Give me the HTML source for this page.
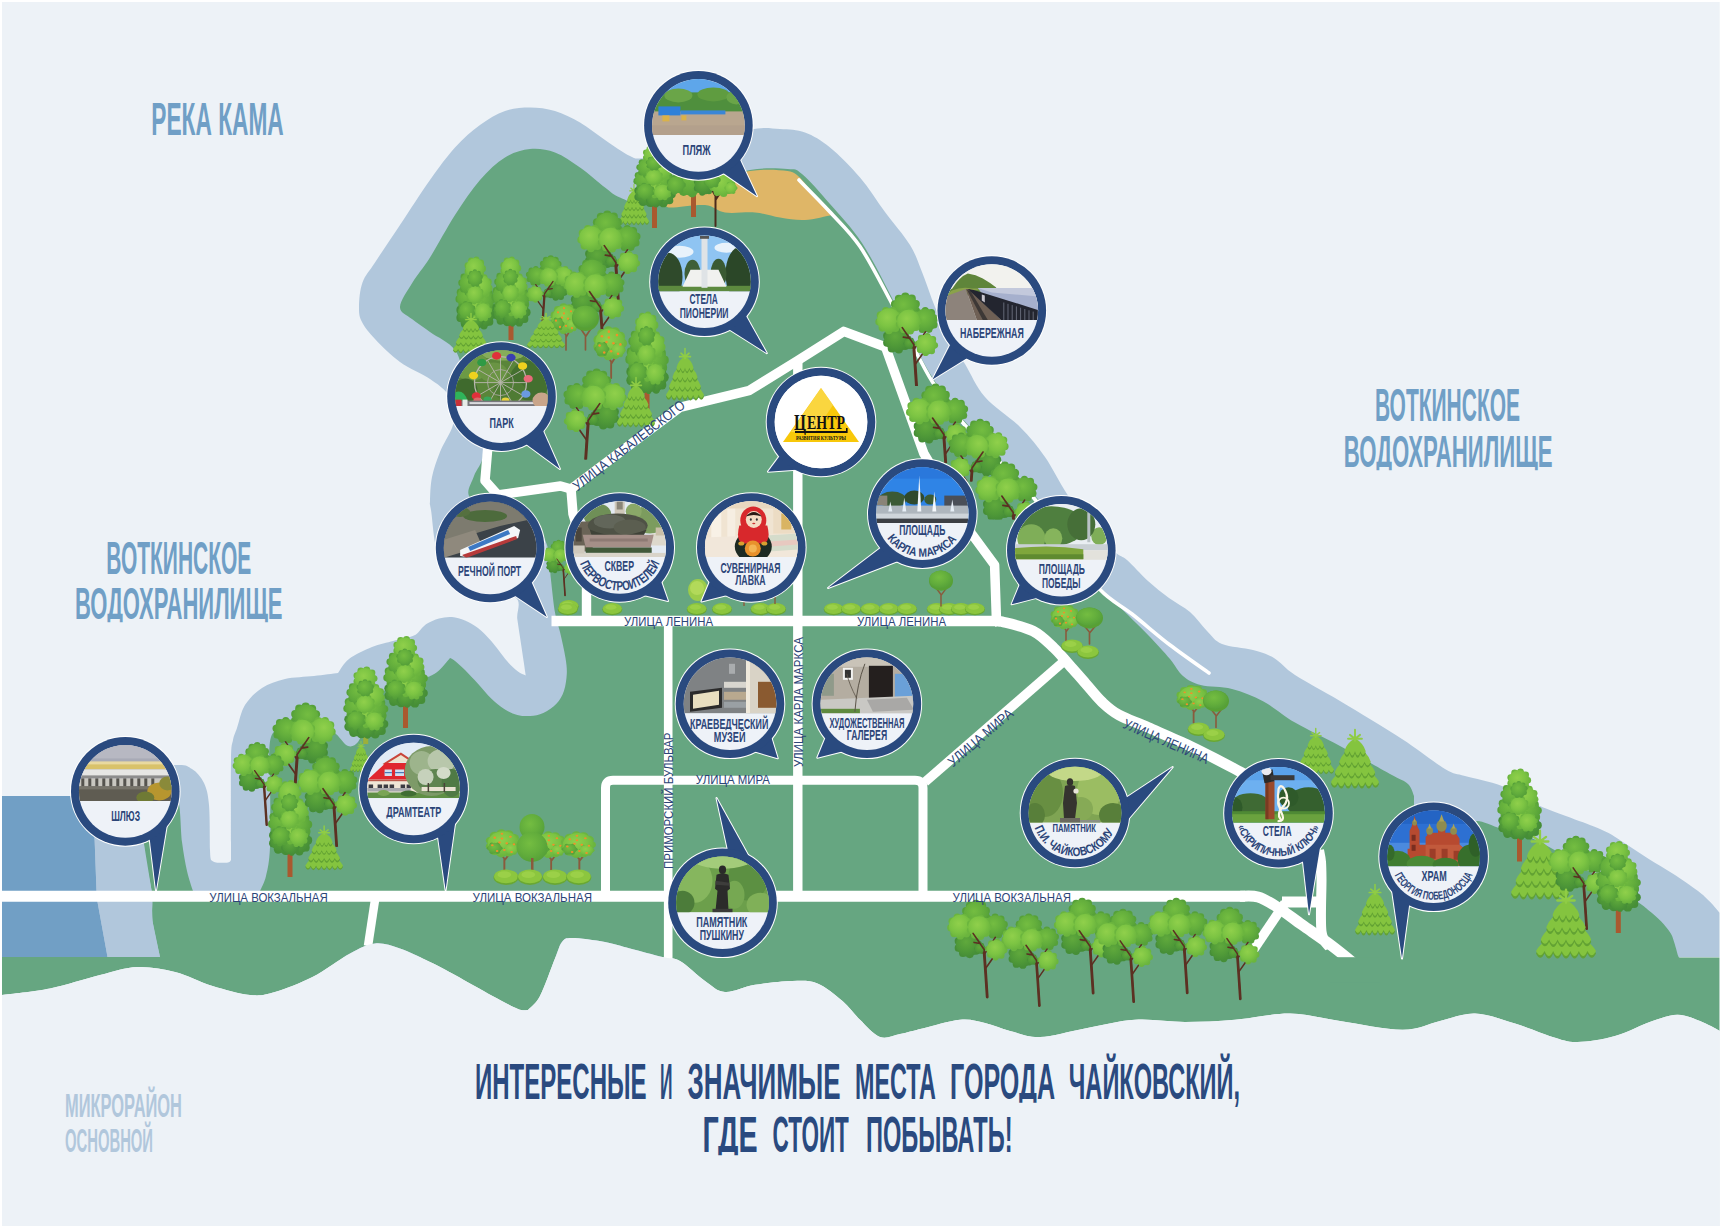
<!DOCTYPE html>
<html lang="ru"><head><meta charset="utf-8"><title>Интересные и значимые места города Чайковский</title>
<style>
html,body{margin:0;padding:0;background:#fff;}
body{width:1721px;height:1228px;overflow:hidden;font-family:"Liberation Sans",sans-serif;}
svg{display:block}
text{font-family:"Liberation Sans",sans-serif;}
.lb{font-weight:bold;fill:#2c4578}
.st{fill:#2c4578}
.sf{font-family:"Liberation Serif",serif}
</style></head><body>
<svg width="1721" height="1228" viewBox="0 0 1721 1228">
<rect x="0" y="0" width="1721" height="1228" fill="#ffffff"/>
<rect x="2" y="2" width="1717.7" height="1224" fill="#edf2f7"/>
<defs><clipPath id="frame"><rect x="2" y="2" width="1717.7" height="1224"/></clipPath></defs>
<g clip-path="url(#frame)">
<path d="M2.0 957.0 C2.0 930.8 2.0 826.2 2.0 800.0 C17.5 800.0 75.3 804.7 95.0 800.0 C114.7 795.3 106.7 777.8 120.0 772.0 C133.3 766.2 163.0 765.5 175.0 765.0 C187.0 764.5 187.2 766.0 192.0 769.0 C196.8 772.0 201.2 777.0 204.0 783.0 C206.8 789.0 208.0 793.8 209.0 805.0 C210.0 816.2 209.7 840.8 210.0 850.0 C210.3 859.2 210.8 858.3 211.0 860.0 C211.8 860.4 213.2 862.1 216.0 862.5 C218.8 862.9 225.5 862.9 228.0 862.5 C230.5 862.1 230.5 860.4 231.0 860.0 C231.0 857.0 231.0 858.7 231.0 842.0 C231.0 825.3 230.7 777.0 231.0 760.0 C231.3 743.0 232.0 745.3 233.0 740.0 C234.0 734.7 235.0 733.8 237.0 728.0 C239.0 722.2 240.8 711.7 245.0 705.0 C249.2 698.3 255.3 692.3 262.0 688.0 C268.7 683.7 276.3 681.0 285.0 679.0 C293.7 677.0 305.2 677.0 314.0 676.0 C322.8 675.0 334.0 673.5 338.0 673.0 C339.8 670.7 343.3 663.3 349.0 659.0 C354.7 654.7 364.7 650.0 372.0 647.0 C379.3 644.0 387.7 642.5 393.0 641.0 C398.3 639.5 400.2 639.0 404.0 638.0 C407.8 637.0 411.9 637.0 415.6 634.7 C419.3 632.4 422.1 627.0 426.0 624.3 C429.9 621.6 434.7 619.6 439.0 618.4 C443.3 617.2 447.7 616.7 452.0 617.0 C456.3 617.3 460.7 618.6 465.0 620.4 C469.3 622.2 473.6 624.6 478.0 628.0 C482.4 631.4 486.4 635.5 491.2 641.0 C496.0 646.5 502.5 655.8 506.8 660.8 C511.1 665.8 514.1 668.5 517.3 671.0 C520.4 673.5 524.3 674.8 525.7 675.5 C525.0 670.4 522.6 654.4 521.2 645.0 C519.8 635.6 518.4 627.0 517.3 619.0 C516.2 611.0 522.6 601.8 514.7 597.0 C506.8 592.2 482.4 596.2 470.0 590.0 C457.6 583.8 446.5 573.3 440.0 560.0 C433.5 546.7 432.7 519.8 431.0 510.0 C429.3 500.2 429.8 506.5 430.0 501.0 C430.2 495.5 430.3 485.2 432.0 477.0 C433.7 468.8 436.7 460.2 440.0 452.0 C443.3 443.8 449.3 435.0 452.0 428.0 C454.7 421.0 455.3 413.0 456.0 410.0 C454.5 407.2 451.3 398.2 447.0 393.0 C442.7 387.8 437.8 384.2 430.0 379.0 C422.2 373.8 409.2 368.7 400.0 362.0 C390.8 355.3 381.3 345.7 375.0 339.0 C368.7 332.3 364.7 327.3 362.0 322.0 C359.3 316.7 358.9 313.6 359.0 307.0 C359.1 300.4 359.8 289.9 362.5 282.5 C365.2 275.1 368.8 272.1 375.0 262.5 C381.2 252.9 390.8 238.8 400.0 225.0 C409.2 211.2 420.8 192.9 430.0 180.0 C439.2 167.1 446.7 156.7 455.0 147.5 C463.3 138.3 471.7 131.1 480.0 125.0 C488.3 118.9 496.7 113.9 505.0 111.0 C513.3 108.1 521.7 107.5 530.0 107.5 C538.3 107.5 546.7 108.5 555.0 111.0 C563.3 113.5 571.7 117.7 580.0 122.5 C588.3 127.3 596.7 134.4 605.0 140.0 C613.3 145.6 623.3 153.0 630.0 156.0 C636.7 159.0 633.3 159.0 645.0 158.0 C656.7 157.0 682.5 154.7 700.0 150.0 C717.5 145.3 736.7 133.5 750.0 130.0 C763.3 126.5 770.8 128.6 780.0 129.0 C789.2 129.4 796.7 129.4 805.0 132.5 C813.3 135.6 820.8 140.0 830.0 147.5 C839.2 155.0 850.8 166.8 860.0 177.5 C869.2 188.2 876.7 200.8 885.0 212.0 C893.3 223.2 903.8 235.0 910.0 245.0 C916.2 255.0 917.8 261.7 922.0 272.0 C926.2 282.3 930.3 295.7 935.0 307.0 C939.7 318.3 945.0 330.5 950.0 340.0 C955.0 349.5 959.2 354.5 965.0 364.0 C970.8 373.5 975.8 386.5 985.0 397.0 C994.2 407.5 1010.0 417.0 1020.0 427.0 C1030.0 437.0 1037.2 445.8 1045.0 457.0 C1052.8 468.2 1059.5 482.7 1067.0 494.0 C1074.5 505.3 1082.0 515.3 1090.0 525.0 C1098.0 534.7 1108.8 546.2 1115.0 552.0 C1121.2 557.8 1121.5 555.2 1127.0 560.0 C1132.5 564.8 1141.0 574.7 1148.0 581.0 C1155.0 587.3 1162.0 592.8 1169.0 598.0 C1176.0 603.2 1183.7 606.5 1190.0 612.0 C1196.3 617.5 1201.7 625.7 1207.0 631.0 C1212.3 636.3 1214.3 640.8 1222.0 644.0 C1229.7 647.2 1244.3 647.7 1253.0 650.0 C1261.7 652.3 1267.0 653.8 1274.0 658.0 C1281.0 662.2 1284.0 667.8 1295.0 675.0 C1306.0 682.2 1322.2 690.3 1340.0 701.0 C1357.8 711.7 1384.5 727.7 1402.0 739.0 C1419.5 750.3 1434.5 762.8 1445.0 769.0 C1455.5 775.2 1455.5 773.2 1465.0 776.0 C1474.5 778.8 1489.5 781.0 1502.0 786.0 C1514.5 791.0 1523.7 798.8 1540.0 806.0 C1556.3 813.2 1585.9 822.8 1600.0 829.0 C1614.1 835.2 1616.3 838.0 1624.4 843.0 C1632.5 848.0 1640.7 853.9 1648.8 859.0 C1656.9 864.1 1664.8 868.4 1673.0 873.7 C1681.2 879.0 1691.5 886.1 1697.7 890.8 C1703.9 895.5 1706.3 898.1 1710.0 901.8 C1713.7 905.5 1718.0 911.0 1719.6 912.8 C1719.6 920.2 1719.6 949.6 1719.6 957.0 C1433.3 957.0 288.3 957.0 2.0 957.0Z" fill="#b1c7dc"/>
<path d="M2.0 957.0 C28.3 957.0 133.7 957.0 160.0 957.0 C158.8 951.0 153.8 930.2 152.5 921.0 C151.2 911.8 152.7 907.2 152.5 902.0 C152.3 896.8 152.9 899.7 151.5 890.0 C150.1 880.3 144.2 857.3 144.0 844.0 C143.8 830.7 146.5 817.7 150.0 810.0 C153.5 802.3 160.3 799.7 165.0 798.0 C169.7 796.3 175.2 792.7 178.0 800.0 C180.8 807.3 180.5 830.2 182.0 842.0 C183.5 853.8 185.2 862.8 187.0 871.0 C188.8 879.2 192.0 887.7 193.0 891.0 C204.2 891.0 248.8 891.0 260.0 891.0 C261.0 888.5 264.3 883.3 266.0 876.0 C267.7 868.7 269.3 863.0 270.0 847.0 C270.7 831.0 270.2 794.5 270.0 780.0 C269.8 765.5 268.8 767.2 269.0 760.0 C269.2 752.8 269.2 742.3 271.0 737.0 C272.8 731.7 275.2 730.5 280.0 728.0 C284.8 725.5 293.3 723.0 300.0 722.0 C306.7 721.0 314.0 720.0 320.0 722.0 C326.0 724.0 331.3 730.0 336.0 734.0 C340.7 738.0 344.3 744.7 348.0 746.0 C351.7 747.3 355.2 745.5 358.0 742.0 C360.8 738.5 362.2 732.0 365.0 725.0 C367.8 718.0 371.3 706.0 375.0 700.0 C378.7 694.0 382.0 691.7 387.0 689.0 C392.0 686.3 398.5 685.9 405.0 684.0 C411.5 682.1 420.8 679.6 426.0 677.7 C431.2 675.8 433.4 674.7 436.5 672.5 C439.6 670.3 442.1 667.1 444.3 664.7 C446.6 662.3 449.1 659.1 450.0 658.0 C450.8 658.5 452.2 658.8 454.7 660.8 C457.2 662.8 461.1 666.1 465.0 670.0 C468.9 673.9 473.8 679.2 478.2 684.0 C482.6 688.8 486.9 694.4 491.2 698.6 C495.5 702.8 499.9 706.3 504.2 709.0 C508.5 711.7 512.9 713.7 517.3 714.9 C521.6 716.1 526.0 716.3 530.3 716.0 C534.6 715.7 538.9 715.0 543.3 713.0 C547.6 711.0 552.9 707.5 556.4 703.8 C559.9 700.1 562.3 695.7 564.0 690.7 C565.7 685.7 566.5 679.2 566.8 673.8 C567.0 668.3 566.6 665.0 565.5 658.0 C564.4 651.0 561.8 639.6 560.0 632.0 C558.2 624.4 556.5 621.3 555.0 612.6 C553.5 603.9 552.3 591.3 551.0 580.0 C549.7 568.7 550.5 555.0 547.0 545.0 C543.5 535.0 539.5 525.8 530.0 520.0 C520.5 514.2 500.2 514.0 490.0 510.0 C479.8 506.0 471.7 501.7 469.0 496.0 C466.3 490.3 471.7 482.8 474.0 476.0 C476.3 469.2 482.3 464.3 483.0 455.0 C483.7 445.7 481.0 432.5 478.0 420.0 C475.0 407.5 468.8 391.7 465.0 380.0 C461.2 368.3 460.8 358.0 455.0 350.0 C449.2 342.0 437.2 337.2 430.0 332.0 C422.8 326.8 417.0 323.2 412.0 319.0 C407.0 314.8 399.9 313.1 400.0 307.0 C400.1 300.9 407.5 290.8 412.5 282.5 C417.5 274.2 422.9 268.8 430.0 257.5 C437.1 246.2 446.7 227.9 455.0 215.0 C463.3 202.1 471.7 189.6 480.0 180.0 C488.3 170.4 496.7 162.7 505.0 157.5 C513.3 152.3 521.7 149.8 530.0 149.0 C538.3 148.2 546.7 149.4 555.0 152.5 C563.3 155.6 571.7 161.7 580.0 167.5 C588.3 173.3 598.3 182.5 605.0 187.5 C611.7 192.5 613.3 194.9 620.0 197.5 C626.7 200.1 631.7 205.1 645.0 203.0 C658.3 200.9 682.5 190.5 700.0 185.0 C717.5 179.5 735.4 172.7 750.0 170.0 C764.6 167.3 778.8 168.3 787.5 169.0 C796.2 169.7 794.9 168.2 802.0 174.0 C809.1 179.8 820.0 192.5 830.0 204.0 C840.0 215.5 851.7 227.3 862.0 243.0 C872.3 258.7 883.7 281.8 892.0 298.0 C900.3 314.2 905.0 326.3 912.0 340.0 C919.0 353.7 925.7 367.0 934.0 380.0 C942.3 393.0 951.2 405.0 962.0 418.0 C972.8 431.0 986.5 444.7 999.0 458.0 C1011.5 471.3 1025.2 483.5 1037.0 498.0 C1048.8 512.5 1059.3 530.0 1070.0 545.0 C1080.7 560.0 1091.3 576.3 1101.0 588.0 C1110.7 599.7 1120.0 607.0 1128.0 615.0 C1136.0 623.0 1142.0 628.7 1149.0 636.0 C1156.0 643.3 1164.3 652.3 1170.0 659.0 C1175.7 665.7 1177.9 671.7 1183.0 676.0 C1188.1 680.3 1192.5 682.8 1200.7 685.0 C1208.9 687.2 1221.5 686.2 1232.0 689.0 C1242.5 691.8 1253.0 695.9 1263.5 701.5 C1274.0 707.1 1282.2 715.1 1295.0 722.5 C1307.8 729.9 1324.2 737.4 1340.0 746.0 C1355.8 754.6 1378.7 767.7 1390.0 774.0 C1401.3 780.3 1404.0 780.3 1408.0 784.0 C1412.0 787.7 1413.0 794.0 1414.0 796.0 C1414.0 801.7 1414.0 824.3 1414.0 830.0 C1423.3 830.0 1460.7 830.0 1470.0 830.0 C1471.2 828.5 1471.7 821.2 1477.0 821.0 C1482.3 820.8 1491.8 825.7 1502.0 829.0 C1512.2 832.3 1523.3 833.8 1538.0 841.0 C1552.7 848.2 1573.8 862.1 1590.0 872.0 C1606.2 881.9 1625.6 894.2 1635.4 900.6 C1645.2 907.0 1644.5 907.0 1648.8 910.4 C1653.1 913.8 1657.3 917.4 1661.0 921.3 C1664.7 925.1 1668.5 929.8 1670.8 933.5 C1673.0 937.2 1673.3 939.6 1674.5 943.3 C1675.7 947.0 1677.2 953.1 1678.0 955.5 C1678.8 957.9 1679.2 957.1 1679.4 957.4 C1686.1 957.4 1712.9 957.4 1719.6 957.4 C1719.6 969.7 1719.6 1018.7 1719.6 1031.0 L1720.0 1031.0 C1716.7 1029.3 1707.1 1023.7 1700.0 1021.0 C1692.9 1018.3 1685.4 1014.8 1677.5 1014.8 C1669.6 1014.8 1662.9 1017.5 1652.5 1021.0 C1642.1 1024.5 1627.5 1032.5 1615.0 1036.0 C1602.5 1039.5 1587.9 1041.8 1577.5 1042.0 C1567.1 1042.2 1562.9 1040.1 1552.5 1037.0 C1542.1 1033.9 1527.9 1027.4 1515.0 1023.5 C1502.1 1019.6 1487.5 1013.9 1475.0 1013.5 C1462.5 1013.1 1452.1 1018.3 1440.0 1021.0 C1427.9 1023.7 1419.2 1029.8 1402.5 1029.8 C1385.8 1029.8 1358.8 1023.7 1340.0 1021.0 C1321.2 1018.3 1307.5 1013.7 1290.0 1013.5 C1272.5 1013.3 1252.5 1018.3 1235.0 1019.8 C1217.5 1021.2 1201.7 1022.0 1185.0 1022.0 C1168.3 1022.0 1151.7 1018.7 1135.0 1019.8 C1118.3 1020.8 1100.8 1025.6 1085.0 1028.5 C1069.2 1031.4 1052.5 1036.6 1040.0 1037.0 C1027.5 1037.4 1019.2 1033.3 1010.0 1031.0 C1000.8 1028.7 993.3 1024.9 985.0 1023.0 C976.7 1021.1 970.4 1018.8 960.0 1019.8 C949.6 1020.7 932.5 1026.1 922.5 1028.5 C912.5 1030.9 907.1 1032.6 900.0 1034.0 C892.9 1035.4 886.7 1039.4 880.0 1037.0 C873.3 1034.6 866.2 1025.8 860.0 1019.8 C853.8 1013.8 849.6 1007.0 842.5 1001.0 C835.4 995.0 825.8 986.8 817.5 983.5 C809.2 980.2 802.9 980.8 792.5 981.0 C782.1 981.2 766.2 982.9 755.0 984.8 C743.8 986.6 733.3 992.6 725.0 992.0 C716.7 991.4 712.5 986.2 705.0 981.0 C697.5 975.8 687.1 965.0 680.0 961.0 C672.9 957.0 670.8 959.1 662.5 957.0 C654.2 954.9 639.6 951.0 630.0 948.5 C620.4 946.0 614.7 943.8 605.0 942.0 C595.3 940.2 579.2 938.0 572.0 938.0 C564.8 938.0 564.8 938.6 562.0 942.0 C559.2 945.4 558.7 949.5 555.0 958.5 C551.3 967.5 544.5 987.4 540.0 996.0 C535.5 1004.6 530.0 1007.7 528.0 1010.0 C526.3 1009.8 523.9 1011.3 518.0 1009.0 C512.1 1006.7 503.0 1001.7 492.5 996.0 C482.0 990.3 465.4 980.7 455.0 975.0 C444.6 969.3 439.2 966.4 430.0 962.0 C420.8 957.6 409.2 951.6 400.0 948.5 C390.8 945.4 383.3 942.7 375.0 943.5 C366.7 944.3 360.4 947.9 350.0 953.5 C339.6 959.1 325.0 970.6 312.5 977.0 C300.0 983.4 285.4 989.0 275.0 992.0 C264.6 995.0 260.4 996.0 250.0 995.0 C239.6 994.0 225.0 989.8 212.5 986.0 C200.0 982.2 187.5 975.2 175.0 972.0 C162.5 968.8 150.0 966.5 137.5 967.0 C125.0 967.5 114.6 971.4 100.0 975.0 C85.4 978.6 66.3 985.2 50.0 988.5 C33.7 991.8 10.0 993.9 2.0 995.0Z" fill="#66a681"/>
<path d="M666.0 203.0 C668.2 201.2 673.3 195.2 679.0 192.0 C684.7 188.8 688.2 187.5 700.0 184.0 C711.8 180.5 735.4 173.2 750.0 171.0 C764.6 168.8 779.2 169.9 787.5 171.0 C795.8 172.1 797.9 176.4 800.0 177.5 C805.3 183.8 826.7 208.8 832.0 215.0 C827.5 215.8 813.7 219.6 805.0 220.0 C796.3 220.4 788.3 218.8 780.0 217.5 C771.7 216.2 764.2 213.3 755.0 212.5 C745.8 211.7 733.3 213.8 725.0 212.5 C716.7 211.2 714.2 205.8 705.0 205.0 C695.8 204.2 676.5 207.8 670.0 207.5 C663.5 207.2 666.7 203.8 666.0 203.0Z" fill="#dfb667"/>
<path d="M2 796 L93 796 L96.5 891 L97.5 902 L107.5 957 L2 957Z" fill="#719fc5"/>
<path d="M93 796 L150 796 L144 844 L151.5 890 L152.5 921 L160 957 L107.5 957 L97.5 902 L96.5 891Z" fill="#b1c7dc"/>
<path d="M799.0 180.0 C804.2 185.3 819.8 200.9 830.0 212.0 C840.2 223.1 850.0 231.8 860.0 246.5 C870.0 261.2 881.5 284.1 890.0 300.0 C898.5 315.9 903.9 328.3 911.0 342.0 C918.1 355.7 924.3 369.1 932.5 382.0 C940.7 394.9 949.2 406.6 960.0 419.5 C970.8 432.4 985.0 446.2 997.5 459.5 C1010.0 472.8 1022.9 485.1 1035.0 499.5 C1047.1 513.9 1059.2 531.0 1070.0 546.0 C1080.8 561.0 1089.7 578.2 1100.0 589.5 C1110.3 600.8 1120.3 604.8 1132.0 614.0 C1143.7 623.2 1157.2 635.2 1170.0 645.0 C1182.8 654.8 1202.5 668.3 1209.0 673.0" fill="none" stroke="#ffffff" stroke-width="3.6" stroke-linejoin="round" stroke-linecap="round"/>
<path d="M2.0 896.3 L1245.0 896.3" fill="none" stroke="#ffffff" stroke-width="11.0" stroke-linejoin="round" />
<path d="M1240.0 896.3 C1243.0 896.4 1251.7 895.2 1258.0 897.0 C1264.3 898.8 1270.3 902.7 1277.6 907.3 C1284.9 911.9 1293.0 918.4 1302.0 924.8 C1311.0 931.2 1321.6 938.2 1331.6 945.7 C1341.6 953.2 1356.9 966.0 1362.0 970.0" fill="none" stroke="#ffffff" stroke-width="11.0" stroke-linejoin="round" />
<rect x="1330" y="957.2" width="50" height="25" fill="#66a681"/>
<path d="M1282.0 902.0 L1321.0 902.0" fill="none" stroke="#ffffff" stroke-width="11.0" stroke-linejoin="round" />
<path d="M1319.0 850.0 C1319.3 852.0 1320.6 857.0 1321.0 862.0 C1321.4 867.0 1321.4 868.4 1321.5 880.0 C1321.6 891.6 1320.1 920.4 1321.5 931.7 C1322.9 943.0 1328.6 945.3 1330.0 948.0" fill="none" stroke="#ffffff" stroke-width="10.0" stroke-linejoin="round" />
<path d="M1285.0 903.0 L1252.0 952.0" fill="none" stroke="#ffffff" stroke-width="9.5" stroke-linejoin="round" />
<path d="M375.0 900.0 L368.0 946.0" fill="none" stroke="#ffffff" stroke-width="8.5" stroke-linejoin="round" />
<path d="M551.5 621.0 L1000.0 621.0" fill="none" stroke="#ffffff" stroke-width="10.6" stroke-linejoin="round" stroke-linecap="butt"/>
<path d="M995.0 621.5 C996.1 621.5 995.6 620.1 1001.9 621.7 C1008.2 623.3 1024.3 626.6 1033.0 631.0 C1041.7 635.4 1048.0 642.4 1054.0 648.0 C1060.0 653.6 1063.7 658.7 1069.0 664.6 C1074.3 670.5 1080.1 677.3 1085.6 683.5 C1091.1 689.7 1096.4 696.8 1102.0 702.0 C1107.6 707.2 1111.3 710.8 1119.0 715.0 C1126.7 719.2 1136.2 722.2 1148.0 727.4 C1159.8 732.6 1177.7 740.2 1190.0 746.0 C1202.3 751.8 1213.2 757.7 1221.6 762.0 C1230.0 766.3 1232.4 767.7 1240.5 772.0 C1248.6 776.3 1265.1 785.3 1270.0 788.0" fill="none" stroke="#ffffff" stroke-width="10.6" stroke-linejoin="round" />
<path d="M668.2 621.0 L668.2 960.0" fill="none" stroke="#ffffff" stroke-width="8.6" stroke-linejoin="round" />
<path d="M797.8 358.0 L797.8 896.0" fill="none" stroke="#ffffff" stroke-width="9.4" stroke-linejoin="round" />
<path d="M605.5 896 L605.5 788 Q605.5 780.3 613 780.3 L915 780.3 Q923 780.3 923 788 L923 896" fill="none" stroke="#ffffff" stroke-width="9.0" stroke-linejoin="round" />
<path d="M925.0 782.0 L1062.5 662.5" fill="none" stroke="#ffffff" stroke-width="9.4" stroke-linejoin="round" />
<path d="M586.5 621.0 L586.5 560.0" fill="none" stroke="#ffffff" stroke-width="9.4" stroke-linejoin="round" />
<path d="M488.0 445.0 L485.0 480.7 L497.7 495.0 L560.5 486.0 L571.0 489.0 L679.8 407.4 L748.8 390.7 L797.0 361.0 L843.7 331.4 L885.5 347.0 L923.8 453.4 L971.6 533.7 L994.6 565.0 L996.5 621.0" fill="none" stroke="#ffffff" stroke-width="9.5" stroke-linejoin="round" />
<path d="M571.0 489.0 L573.0 514.0 L586.5 560.0" fill="none" stroke="#ffffff" stroke-width="9.5" stroke-linejoin="round" />
<path d="M2.0 995.0 C10.0 993.9 33.7 991.8 50.0 988.5 C66.3 985.2 85.4 978.6 100.0 975.0 C114.6 971.4 125.0 967.5 137.5 967.0 C150.0 966.5 162.5 968.8 175.0 972.0 C187.5 975.2 200.0 982.2 212.5 986.0 C225.0 989.8 239.6 994.0 250.0 995.0 C260.4 996.0 264.6 995.0 275.0 992.0 C285.4 989.0 300.0 983.4 312.5 977.0 C325.0 970.6 339.6 959.1 350.0 953.5 C360.4 947.9 366.7 944.3 375.0 943.5 C383.3 942.7 390.8 945.4 400.0 948.5 C409.2 951.6 420.8 957.6 430.0 962.0 C439.2 966.4 444.6 969.3 455.0 975.0 C465.4 980.7 482.0 990.3 492.5 996.0 C503.0 1001.7 512.1 1006.7 518.0 1009.0 C523.9 1011.3 526.3 1009.8 528.0 1010.0 C530.0 1007.7 535.5 1004.6 540.0 996.0 C544.5 987.4 551.3 967.5 555.0 958.5 C558.7 949.5 559.2 945.4 562.0 942.0 C564.8 938.6 564.8 938.0 572.0 938.0 C579.2 938.0 595.3 940.2 605.0 942.0 C614.7 943.8 620.4 946.0 630.0 948.5 C639.6 951.0 654.2 954.9 662.5 957.0 C670.8 959.1 672.9 957.0 680.0 961.0 C687.1 965.0 697.5 975.8 705.0 981.0 C712.5 986.2 716.7 991.4 725.0 992.0 C733.3 992.6 743.8 986.6 755.0 984.8 C766.2 982.9 782.1 981.2 792.5 981.0 C802.9 980.8 809.2 980.2 817.5 983.5 C825.8 986.8 835.4 995.0 842.5 1001.0 C849.6 1007.0 853.8 1013.8 860.0 1019.8 C866.2 1025.8 873.3 1034.6 880.0 1037.0 C886.7 1039.4 892.9 1035.4 900.0 1034.0 C907.1 1032.6 912.5 1030.9 922.5 1028.5 C932.5 1026.1 949.6 1020.7 960.0 1019.8 C970.4 1018.8 976.7 1021.1 985.0 1023.0 C993.3 1024.9 1000.8 1028.7 1010.0 1031.0 C1019.2 1033.3 1027.5 1037.4 1040.0 1037.0 C1052.5 1036.6 1069.2 1031.4 1085.0 1028.5 C1100.8 1025.6 1118.3 1020.8 1135.0 1019.8 C1151.7 1018.7 1168.3 1022.0 1185.0 1022.0 C1201.7 1022.0 1217.5 1021.2 1235.0 1019.8 C1252.5 1018.3 1272.5 1013.3 1290.0 1013.5 C1307.5 1013.7 1321.2 1018.3 1340.0 1021.0 C1358.8 1023.7 1385.8 1029.8 1402.5 1029.8 C1419.2 1029.8 1427.9 1023.7 1440.0 1021.0 C1452.1 1018.3 1462.5 1013.1 1475.0 1013.5 C1487.5 1013.9 1502.1 1019.6 1515.0 1023.5 C1527.9 1027.4 1542.1 1033.9 1552.5 1037.0 C1562.9 1040.1 1567.1 1042.2 1577.5 1042.0 C1587.9 1041.8 1602.5 1039.5 1615.0 1036.0 C1627.5 1032.5 1642.1 1024.5 1652.5 1021.0 C1662.9 1017.5 1669.6 1014.8 1677.5 1014.8 C1685.4 1014.8 1692.9 1018.3 1700.0 1021.0 C1707.1 1023.7 1716.7 1029.3 1720.0 1031.0 L1720 1226 L2 1226Z" fill="#edf2f7"/>
</g>
<defs><radialGradient id="gL" cx="0.42" cy="0.38" r="0.62"><stop offset="0" stop-color="#90d04b"/><stop offset="0.6" stop-color="#7cc443"/><stop offset="1" stop-color="#6bb53e"/></radialGradient><radialGradient id="gM" cx="0.42" cy="0.38" r="0.62"><stop offset="0" stop-color="#74bd41"/><stop offset="0.6" stop-color="#63ae3c"/><stop offset="1" stop-color="#56a139"/></radialGradient><radialGradient id="gD" cx="0.42" cy="0.38" r="0.62"><stop offset="0" stop-color="#60a93c"/><stop offset="0.6" stop-color="#509a38"/><stop offset="1" stop-color="#468e37"/></radialGradient><g id="tb"><circle cx="29.0" cy="42.0" r="3.8" fill="#468e37"/><circle cx="26.7" cy="48.4" r="3.8" fill="#468e37"/><circle cx="20.7" cy="51.8" r="3.8" fill="#468e37"/><circle cx="14.0" cy="50.7" r="3.8" fill="#468e37"/><circle cx="9.6" cy="45.4" r="3.8" fill="#468e37"/><circle cx="9.6" cy="38.6" r="3.8" fill="#468e37"/><circle cx="14.0" cy="33.3" r="3.8" fill="#468e37"/><circle cx="20.7" cy="32.2" r="3.8" fill="#468e37"/><circle cx="26.7" cy="35.6" r="3.8" fill="#468e37"/><circle cx="19.0" cy="42.0" r="11.9" fill="url(#gD)"/><circle cx="35.4" cy="46.0" r="1.6" fill="#468e37"/><circle cx="33.2" cy="49.8" r="1.6" fill="#468e37"/><circle cx="28.8" cy="49.8" r="1.6" fill="#468e37"/><circle cx="26.6" cy="46.0" r="1.6" fill="#468e37"/><circle cx="28.8" cy="42.2" r="1.6" fill="#468e37"/><circle cx="33.2" cy="42.2" r="1.6" fill="#468e37"/><circle cx="31.0" cy="46.0" r="5.2" fill="url(#gD)"/><circle cx="36.9" cy="15.1" r="3.9" fill="#56a139"/><circle cx="33.2" cy="20.3" r="3.9" fill="#56a139"/><circle cx="27.1" cy="22.4" r="3.9" fill="#56a139"/><circle cx="21.0" cy="20.5" r="3.9" fill="#56a139"/><circle cx="17.2" cy="15.4" r="3.9" fill="#56a139"/><circle cx="17.1" cy="8.9" r="3.9" fill="#56a139"/><circle cx="20.8" cy="3.7" r="3.9" fill="#56a139"/><circle cx="26.9" cy="1.6" r="3.9" fill="#56a139"/><circle cx="33.0" cy="3.5" r="3.9" fill="#56a139"/><circle cx="36.8" cy="8.6" r="3.9" fill="#56a139"/><circle cx="27.0" cy="12.0" r="12.3" fill="url(#gM)"/><circle cx="54.1" cy="28.4" r="3.4" fill="#56a139"/><circle cx="49.3" cy="32.6" r="3.4" fill="#56a139"/><circle cx="43.1" cy="32.7" r="3.4" fill="#56a139"/><circle cx="38.1" cy="28.8" r="3.4" fill="#56a139"/><circle cx="36.9" cy="22.6" r="3.4" fill="#56a139"/><circle cx="39.9" cy="17.1" r="3.4" fill="#56a139"/><circle cx="45.8" cy="14.8" r="3.4" fill="#56a139"/><circle cx="51.7" cy="16.8" r="3.4" fill="#56a139"/><circle cx="55.0" cy="22.2" r="3.4" fill="#56a139"/><circle cx="46.0" cy="24.0" r="10.9" fill="url(#gM)"/><circle cx="20.9" cy="25.9" r="3.6" fill="#6bb53e"/><circle cx="17.5" cy="31.5" r="3.6" fill="#6bb53e"/><circle cx="11.3" cy="33.6" r="3.6" fill="#6bb53e"/><circle cx="5.1" cy="31.2" r="3.6" fill="#6bb53e"/><circle cx="2.0" cy="25.4" r="3.6" fill="#6bb53e"/><circle cx="3.3" cy="19.0" r="3.6" fill="#6bb53e"/><circle cx="8.4" cy="14.9" r="3.6" fill="#6bb53e"/><circle cx="15.0" cy="15.1" r="3.6" fill="#6bb53e"/><circle cx="19.9" cy="19.4" r="3.6" fill="#6bb53e"/><circle cx="11.5" cy="24.0" r="11.4" fill="url(#gL)"/><circle cx="37.0" cy="30.9" r="3.4" fill="#6bb53e"/><circle cx="31.6" cy="34.1" r="3.4" fill="#6bb53e"/><circle cx="25.4" cy="33.0" r="3.4" fill="#6bb53e"/><circle cx="21.3" cy="28.1" r="3.4" fill="#6bb53e"/><circle cx="21.4" cy="21.8" r="3.4" fill="#6bb53e"/><circle cx="25.4" cy="17.0" r="3.4" fill="#6bb53e"/><circle cx="31.6" cy="15.9" r="3.4" fill="#6bb53e"/><circle cx="37.1" cy="19.1" r="3.4" fill="#6bb53e"/><circle cx="39.2" cy="25.0" r="3.4" fill="#6bb53e"/><circle cx="30.0" cy="25.0" r="10.9" fill="url(#gL)"/><path d="M38 94 Q36.5 70 35 47 L24 31 M35 52 L46 35 M36.2 66 L46 52 M31 41 L25 40" fill="none" stroke="#5c3022" stroke-width="1.6" stroke-linecap="round"/><path d="M38 94 Q36.5 70 35 50" fill="none" stroke="#5c3022" stroke-width="2.8" stroke-linecap="round"/><circle cx="55.0" cy="47.8" r="3.0" fill="#6bb53e"/><circle cx="52.1" cy="53.2" r="3.0" fill="#6bb53e"/><circle cx="46.2" cy="55.0" r="3.0" fill="#6bb53e"/><circle cx="40.8" cy="52.1" r="3.0" fill="#6bb53e"/><circle cx="39.0" cy="46.2" r="3.0" fill="#6bb53e"/><circle cx="41.9" cy="40.8" r="3.0" fill="#6bb53e"/><circle cx="47.8" cy="39.0" r="3.0" fill="#6bb53e"/><circle cx="53.2" cy="41.9" r="3.0" fill="#6bb53e"/><circle cx="47.0" cy="47.0" r="9.5" fill="url(#gL)"/></g><g id="tp"><circle cx="25.2" cy="56.0" r="4.2" fill="#468e37"/><circle cx="22.6" cy="63.2" r="4.2" fill="#468e37"/><circle cx="15.9" cy="67.0" r="4.2" fill="#468e37"/><circle cx="8.4" cy="65.7" r="4.2" fill="#468e37"/><circle cx="3.5" cy="59.8" r="4.2" fill="#468e37"/><circle cx="3.5" cy="52.2" r="4.2" fill="#468e37"/><circle cx="8.4" cy="46.3" r="4.2" fill="#468e37"/><circle cx="15.9" cy="45.0" r="4.2" fill="#468e37"/><circle cx="22.6" cy="48.8" r="4.2" fill="#468e37"/><circle cx="14.0" cy="56.0" r="13.3" fill="url(#gD)"/><circle cx="38.8" cy="57.0" r="4.0" fill="#468e37"/><circle cx="36.3" cy="63.9" r="4.0" fill="#468e37"/><circle cx="29.9" cy="67.6" r="4.0" fill="#468e37"/><circle cx="22.6" cy="66.4" r="4.0" fill="#468e37"/><circle cx="17.9" cy="60.7" r="4.0" fill="#468e37"/><circle cx="17.9" cy="53.3" r="4.0" fill="#468e37"/><circle cx="22.6" cy="47.6" r="4.0" fill="#468e37"/><circle cx="29.9" cy="46.4" r="4.0" fill="#468e37"/><circle cx="36.3" cy="50.1" r="4.0" fill="#468e37"/><circle cx="28.0" cy="57.0" r="12.8" fill="url(#gD)"/><circle cx="28.2" cy="62.0" r="2.7" fill="#468e37"/><circle cx="26.5" cy="66.6" r="2.7" fill="#468e37"/><circle cx="22.3" cy="69.1" r="2.7" fill="#468e37"/><circle cx="17.4" cy="68.2" r="2.7" fill="#468e37"/><circle cx="14.2" cy="64.5" r="2.7" fill="#468e37"/><circle cx="14.2" cy="59.5" r="2.7" fill="#468e37"/><circle cx="17.4" cy="55.8" r="2.7" fill="#468e37"/><circle cx="22.3" cy="54.9" r="2.7" fill="#468e37"/><circle cx="26.5" cy="57.4" r="2.7" fill="#468e37"/><circle cx="21.0" cy="62.0" r="8.5" fill="url(#gD)"/><circle cx="21.8" cy="42.0" r="3.8" fill="#56a139"/><circle cx="18.2" cy="47.8" r="3.8" fill="#56a139"/><circle cx="11.7" cy="50.0" r="3.8" fill="#56a139"/><circle cx="5.4" cy="47.5" r="3.8" fill="#56a139"/><circle cx="2.1" cy="41.5" r="3.8" fill="#56a139"/><circle cx="3.5" cy="34.8" r="3.8" fill="#56a139"/><circle cx="8.8" cy="30.5" r="3.8" fill="#56a139"/><circle cx="15.7" cy="30.7" r="3.8" fill="#56a139"/><circle cx="20.8" cy="35.2" r="3.8" fill="#56a139"/><circle cx="12.0" cy="40.0" r="11.9" fill="url(#gM)"/><circle cx="37.3" cy="48.6" r="3.8" fill="#56a139"/><circle cx="31.7" cy="52.6" r="3.8" fill="#56a139"/><circle cx="24.9" cy="52.1" r="3.8" fill="#56a139"/><circle cx="20.0" cy="47.3" r="3.8" fill="#56a139"/><circle cx="19.3" cy="40.5" r="3.8" fill="#56a139"/><circle cx="23.2" cy="34.9" r="3.8" fill="#56a139"/><circle cx="29.8" cy="33.0" r="3.8" fill="#56a139"/><circle cx="36.0" cy="35.9" r="3.8" fill="#56a139"/><circle cx="39.0" cy="42.0" r="3.8" fill="#56a139"/><circle cx="29.0" cy="43.0" r="11.9" fill="url(#gM)"/><circle cx="28.0" cy="50.8" r="3.0" fill="#6bb53e"/><circle cx="25.6" cy="55.7" r="3.0" fill="#6bb53e"/><circle cx="20.6" cy="58.0" r="3.0" fill="#6bb53e"/><circle cx="15.3" cy="56.5" r="3.0" fill="#6bb53e"/><circle cx="12.2" cy="52.0" r="3.0" fill="#6bb53e"/><circle cx="12.8" cy="46.5" r="3.0" fill="#6bb53e"/><circle cx="16.7" cy="42.7" r="3.0" fill="#6bb53e"/><circle cx="22.2" cy="42.3" r="3.0" fill="#6bb53e"/><circle cx="26.6" cy="45.5" r="3.0" fill="#6bb53e"/><circle cx="20.0" cy="50.0" r="9.5" fill="url(#gL)"/><circle cx="17.9" cy="55.1" r="2.7" fill="#56a139"/><circle cx="14.9" cy="59.1" r="2.7" fill="#56a139"/><circle cx="10.1" cy="60.1" r="2.7" fill="#56a139"/><circle cx="5.7" cy="57.9" r="2.7" fill="#56a139"/><circle cx="3.8" cy="53.4" r="2.7" fill="#56a139"/><circle cx="5.3" cy="48.6" r="2.7" fill="#56a139"/><circle cx="9.4" cy="46.0" r="2.7" fill="#56a139"/><circle cx="14.3" cy="46.6" r="2.7" fill="#56a139"/><circle cx="17.6" cy="50.2" r="2.7" fill="#56a139"/><circle cx="11.0" cy="53.0" r="8.5" fill="url(#gM)"/><circle cx="35.3" cy="57.5" r="2.7" fill="#6bb53e"/><circle cx="31.6" cy="60.7" r="2.7" fill="#6bb53e"/><circle cx="26.7" cy="60.8" r="2.7" fill="#6bb53e"/><circle cx="22.9" cy="57.7" r="2.7" fill="#6bb53e"/><circle cx="21.9" cy="52.9" r="2.7" fill="#6bb53e"/><circle cx="24.2" cy="48.6" r="2.7" fill="#6bb53e"/><circle cx="28.8" cy="46.8" r="2.7" fill="#6bb53e"/><circle cx="33.5" cy="48.4" r="2.7" fill="#6bb53e"/><circle cx="36.1" cy="52.6" r="2.7" fill="#6bb53e"/><circle cx="29.0" cy="54.0" r="8.5" fill="url(#gL)"/><circle cx="22.5" cy="29.6" r="3.4" fill="#56a139"/><circle cx="18.2" cy="34.2" r="3.4" fill="#56a139"/><circle cx="11.9" cy="35.0" r="3.4" fill="#56a139"/><circle cx="6.7" cy="31.5" r="3.4" fill="#56a139"/><circle cx="4.8" cy="25.5" r="3.4" fill="#56a139"/><circle cx="7.3" cy="19.7" r="3.4" fill="#56a139"/><circle cx="12.9" cy="16.9" r="3.4" fill="#56a139"/><circle cx="19.0" cy="18.3" r="3.4" fill="#56a139"/><circle cx="22.8" cy="23.3" r="3.4" fill="#56a139"/><circle cx="14.0" cy="26.0" r="10.9" fill="url(#gM)"/><circle cx="32.7" cy="36.2" r="3.4" fill="#6bb53e"/><circle cx="26.7" cy="38.2" r="3.4" fill="#6bb53e"/><circle cx="20.9" cy="35.9" r="3.4" fill="#6bb53e"/><circle cx="17.9" cy="30.3" r="3.4" fill="#6bb53e"/><circle cx="19.2" cy="24.2" r="3.4" fill="#6bb53e"/><circle cx="24.1" cy="20.3" r="3.4" fill="#6bb53e"/><circle cx="30.4" cy="20.4" r="3.4" fill="#6bb53e"/><circle cx="35.1" cy="24.6" r="3.4" fill="#6bb53e"/><circle cx="36.0" cy="30.8" r="3.4" fill="#6bb53e"/><circle cx="27.0" cy="29.0" r="10.9" fill="url(#gL)"/><circle cx="26.9" cy="39.1" r="2.7" fill="#6bb53e"/><circle cx="23.9" cy="43.1" r="2.7" fill="#6bb53e"/><circle cx="19.1" cy="44.1" r="2.7" fill="#6bb53e"/><circle cx="14.7" cy="41.9" r="2.7" fill="#6bb53e"/><circle cx="12.8" cy="37.4" r="2.7" fill="#6bb53e"/><circle cx="14.3" cy="32.6" r="2.7" fill="#6bb53e"/><circle cx="18.4" cy="30.0" r="2.7" fill="#6bb53e"/><circle cx="23.3" cy="30.6" r="2.7" fill="#6bb53e"/><circle cx="26.6" cy="34.2" r="2.7" fill="#6bb53e"/><circle cx="20.0" cy="37.0" r="8.5" fill="url(#gL)"/><circle cx="28.8" cy="11.5" r="3.3" fill="#6bb53e"/><circle cx="26.7" cy="17.2" r="3.3" fill="#6bb53e"/><circle cx="21.5" cy="20.2" r="3.3" fill="#6bb53e"/><circle cx="15.6" cy="19.1" r="3.3" fill="#6bb53e"/><circle cx="11.7" cy="14.5" r="3.3" fill="#6bb53e"/><circle cx="11.7" cy="8.5" r="3.3" fill="#6bb53e"/><circle cx="15.6" cy="3.9" r="3.3" fill="#6bb53e"/><circle cx="21.5" cy="2.8" r="3.3" fill="#6bb53e"/><circle cx="26.7" cy="5.8" r="3.3" fill="#6bb53e"/><circle cx="20.0" cy="11.5" r="10.4" fill="url(#gL)"/><circle cx="25.6" cy="24.1" r="2.4" fill="#56a139"/><circle cx="22.3" cy="27.0" r="2.4" fill="#56a139"/><circle cx="18.0" cy="27.1" r="2.4" fill="#56a139"/><circle cx="14.5" cy="24.3" r="2.4" fill="#56a139"/><circle cx="13.7" cy="20.0" r="2.4" fill="#56a139"/><circle cx="15.8" cy="16.2" r="2.4" fill="#56a139"/><circle cx="19.8" cy="14.6" r="2.4" fill="#56a139"/><circle cx="24.0" cy="16.0" r="2.4" fill="#56a139"/><circle cx="26.3" cy="19.7" r="2.4" fill="#56a139"/><circle cx="20.0" cy="21.0" r="7.6" fill="url(#gM)"/></g><g id="tf"><path d="M19.0 29.6 Q3.8 34.1 0.0 42.1 q2.71 5.5 5.43 0 q2.71 6.5 5.43 0 q2.71 6.5 5.43 0 q2.71 6.5 5.43 0 q2.71 6.5 5.43 0 q2.71 6.5 5.43 0 q2.71 5.5 5.43 0 Q34.2 34.1 19.0 29.6 Z" fill="#62a233"/><path d="M19.0 28.0 Q3.8 32.5 0.0 40.5 q2.71 5.5 5.43 0 q2.71 6.5 5.43 0 q2.71 6.5 5.43 0 q2.71 6.5 5.43 0 q2.71 6.5 5.43 0 q2.71 6.5 5.43 0 q2.71 5.5 5.43 0 Q34.2 32.5 19.0 28.0 Z" fill="#84c43f"/><path d="M19.0 21.6 Q6.2 26.2 3.0 34.6 q2.67 5.5 5.33 0 q2.67 6.5 5.33 0 q2.67 6.5 5.33 0 q2.67 6.5 5.33 0 q2.67 6.5 5.33 0 q2.67 5.5 5.33 0 Q31.8 26.2 19.0 21.6 Z" fill="#62a233"/><path d="M19.0 20.0 Q6.2 24.6 3.0 33.0 q2.67 5.5 5.33 0 q2.67 6.5 5.33 0 q2.67 6.5 5.33 0 q2.67 6.5 5.33 0 q2.67 6.5 5.33 0 q2.67 5.5 5.33 0 Q31.8 24.6 19.0 20.0 Z" fill="#84c43f"/><path d="M19.0 14.6 Q9.0 19.0 6.5 26.6 q2.50 5.5 5.00 0 q2.50 6.5 5.00 0 q2.50 6.5 5.00 0 q2.50 6.5 5.00 0 q2.50 5.5 5.00 0 Q29.0 19.0 19.0 14.6 Z" fill="#62a233"/><path d="M19.0 13.0 Q9.0 17.4 6.5 25.0 q2.50 5.5 5.00 0 q2.50 6.5 5.00 0 q2.50 6.5 5.00 0 q2.50 6.5 5.00 0 q2.50 5.5 5.00 0 Q29.0 17.4 19.0 13.0 Z" fill="#84c43f"/><path d="M19.0 8.6 Q12.2 12.3 10.5 18.6 q2.12 5.5 4.25 0 q2.12 6.5 4.25 0 q2.12 6.5 4.25 0 q2.12 5.5 4.25 0 Q25.8 12.3 19.0 8.6 Z" fill="#62a233"/><path d="M19.0 7.0 Q12.2 10.8 10.5 17.0 q2.12 5.5 4.25 0 q2.12 6.5 4.25 0 q2.12 6.5 4.25 0 q2.12 5.5 4.25 0 Q25.8 10.8 19.0 7.0 Z" fill="#84c43f"/><path d="M19 0.5 L19 9 M13.5 7.5 L24.5 7.5 M15 4.5 L19 7.5 L23 4.5" fill="none" stroke="#8fcc45" stroke-width="1.5" stroke-linecap="round"/></g><g id="tr"><path d="M14 44 L14 30 L8 20 M14 32 L20 22" fill="none" stroke="#8a5a3c" stroke-width="1.6" stroke-linecap="round"/><circle cx="23.8" cy="14.0" r="4.0" fill="#6bb53e"/><circle cx="22.1" cy="19.8" r="4.0" fill="#6bb53e"/><circle cx="17.5" cy="23.8" r="4.0" fill="#6bb53e"/><circle cx="11.5" cy="24.7" r="4.0" fill="#6bb53e"/><circle cx="5.9" cy="22.2" r="4.0" fill="#6bb53e"/><circle cx="2.6" cy="17.0" r="4.0" fill="#6bb53e"/><circle cx="2.6" cy="11.0" r="4.0" fill="#6bb53e"/><circle cx="5.9" cy="5.8" r="4.0" fill="#6bb53e"/><circle cx="11.5" cy="3.3" r="4.0" fill="#6bb53e"/><circle cx="17.5" cy="4.2" r="4.0" fill="#6bb53e"/><circle cx="22.1" cy="8.2" r="4.0" fill="#6bb53e"/><circle cx="13.0" cy="14.0" r="12.8" fill="url(#gL)"/><circle cx="10.8" cy="19.0" r="1.8" fill="#56a139"/><circle cx="8.4" cy="23.2" r="1.8" fill="#56a139"/><circle cx="3.6" cy="23.2" r="1.8" fill="#56a139"/><circle cx="1.2" cy="19.0" r="1.8" fill="#56a139"/><circle cx="3.6" cy="14.8" r="1.8" fill="#56a139"/><circle cx="8.4" cy="14.8" r="1.8" fill="#56a139"/><circle cx="6.0" cy="19.0" r="5.7" fill="url(#gM)"/><circle cx="24.8" cy="20.0" r="1.8" fill="#6bb53e"/><circle cx="22.4" cy="24.2" r="1.8" fill="#6bb53e"/><circle cx="17.6" cy="24.2" r="1.8" fill="#6bb53e"/><circle cx="15.2" cy="20.0" r="1.8" fill="#6bb53e"/><circle cx="17.6" cy="15.8" r="1.8" fill="#6bb53e"/><circle cx="22.4" cy="15.8" r="1.8" fill="#6bb53e"/><circle cx="20.0" cy="20.0" r="5.7" fill="url(#gL)"/><circle cx="6.0" cy="8.0" r="1.1" fill="#f0902a"/><circle cx="12.0" cy="4.0" r="1.1" fill="#f0902a"/><circle cx="19.0" cy="7.0" r="1.1" fill="#f0902a"/><circle cx="4.0" cy="16.0" r="1.1" fill="#f0902a"/><circle cx="10.0" cy="13.0" r="1.1" fill="#f0902a"/><circle cx="16.0" cy="14.0" r="1.1" fill="#f0902a"/><circle cx="22.0" cy="15.0" r="1.1" fill="#f0902a"/><circle cx="8.0" cy="22.0" r="1.1" fill="#f0902a"/><circle cx="14.0" cy="21.0" r="1.1" fill="#f0902a"/><circle cx="20.0" cy="23.0" r="1.1" fill="#f0902a"/><circle cx="12.0" cy="9.0" r="1.1" fill="#f0902a"/></g><g id="to"><path d="M13 44 L13 30 L7 21 M13 31 L19 22" fill="none" stroke="#8a5a3c" stroke-width="1.6" stroke-linecap="round"/><ellipse cx="13" cy="13" rx="13" ry="12.5" fill="#57a034"/><ellipse cx="12.7" cy="11.5" rx="12.3" ry="10.8" fill="url(#gM)"/></g><g id="bu"><ellipse cx="11" cy="7.5" rx="11" ry="6.5" fill="#6aa832"/><ellipse cx="11" cy="6.5" rx="10.5" ry="6" fill="#8cc63e"/><ellipse cx="9.5" cy="5" rx="6" ry="3" fill="#9bd048"/></g></defs>
<g clip-path="url(#frame)">
<use href="#tf" transform="translate(619.0 184.0) scale(0.789 0.911)"/>
<rect x="652.0" y="196.0" width="5.0" height="32.0" fill="#a9592f"/>
<use href="#tp" transform="translate(635.0 145.0) scale(0.951 0.871)"/>
<rect x="691" y="186" width="5" height="31" fill="#a9592f"/>
<path d="M715.5 226 L715.5 196 L711 188 M715.5 200 L722 190" fill="none" stroke="#4a2a1c" stroke-width="2" stroke-linecap="round"/>
<circle cx="702.8" cy="180.0" r="4.8" fill="#56a139"/><circle cx="699.8" cy="188.2" r="4.8" fill="#56a139"/><circle cx="692.2" cy="192.6" r="4.8" fill="#56a139"/><circle cx="683.6" cy="191.1" r="4.8" fill="#56a139"/><circle cx="678.0" cy="184.4" r="4.8" fill="#56a139"/><circle cx="678.0" cy="175.6" r="4.8" fill="#56a139"/><circle cx="683.6" cy="168.9" r="4.8" fill="#56a139"/><circle cx="692.2" cy="167.4" r="4.8" fill="#56a139"/><circle cx="699.8" cy="171.8" r="4.8" fill="#56a139"/><circle cx="690.0" cy="180.0" r="15.2" fill="url(#gM)"/><circle cx="683.2" cy="185.0" r="2.7" fill="#56a139"/><circle cx="680.5" cy="190.6" r="2.7" fill="#56a139"/><circle cx="674.4" cy="192.0" r="2.7" fill="#56a139"/><circle cx="669.5" cy="188.1" r="2.7" fill="#56a139"/><circle cx="669.5" cy="181.9" r="2.7" fill="#56a139"/><circle cx="674.4" cy="178.0" r="2.7" fill="#56a139"/><circle cx="680.5" cy="179.4" r="2.7" fill="#56a139"/><circle cx="676.0" cy="185.0" r="8.5" fill="url(#gM)"/><circle cx="712.0" cy="185.0" r="3.0" fill="#468e37"/><circle cx="709.0" cy="191.3" r="3.0" fill="#468e37"/><circle cx="702.2" cy="192.8" r="3.0" fill="#468e37"/><circle cx="696.8" cy="188.5" r="3.0" fill="#468e37"/><circle cx="696.8" cy="181.5" r="3.0" fill="#468e37"/><circle cx="702.2" cy="177.2" r="3.0" fill="#468e37"/><circle cx="709.0" cy="178.7" r="3.0" fill="#468e37"/><circle cx="704.0" cy="185.0" r="9.5" fill="url(#gD)"/><circle cx="731.6" cy="184.0" r="3.6" fill="#6bb53e"/><circle cx="729.4" cy="190.2" r="3.6" fill="#6bb53e"/><circle cx="723.7" cy="193.5" r="3.6" fill="#6bb53e"/><circle cx="717.2" cy="192.3" r="3.6" fill="#6bb53e"/><circle cx="713.0" cy="187.3" r="3.6" fill="#6bb53e"/><circle cx="713.0" cy="180.7" r="3.6" fill="#6bb53e"/><circle cx="717.2" cy="175.7" r="3.6" fill="#6bb53e"/><circle cx="723.7" cy="174.5" r="3.6" fill="#6bb53e"/><circle cx="729.4" cy="177.8" r="3.6" fill="#6bb53e"/><circle cx="722.0" cy="184.0" r="11.4" fill="url(#gL)"/><circle cx="718.4" cy="180.0" r="2.4" fill="#56a139"/><circle cx="716.0" cy="185.0" r="2.4" fill="#56a139"/><circle cx="710.6" cy="186.2" r="2.4" fill="#56a139"/><circle cx="706.2" cy="182.8" r="2.4" fill="#56a139"/><circle cx="706.2" cy="177.2" r="2.4" fill="#56a139"/><circle cx="710.6" cy="173.8" r="2.4" fill="#56a139"/><circle cx="716.0" cy="175.0" r="2.4" fill="#56a139"/><circle cx="712.0" cy="180.0" r="7.6" fill="url(#gM)"/><circle cx="735.8" cy="188.0" r="1.8" fill="#6bb53e"/><circle cx="733.4" cy="192.2" r="1.8" fill="#6bb53e"/><circle cx="728.6" cy="192.2" r="1.8" fill="#6bb53e"/><circle cx="726.2" cy="188.0" r="1.8" fill="#6bb53e"/><circle cx="728.6" cy="183.8" r="1.8" fill="#6bb53e"/><circle cx="733.4" cy="183.8" r="1.8" fill="#6bb53e"/><circle cx="731.0" cy="188.0" r="5.7" fill="url(#gL)"/>
<use href="#tb" transform="translate(579.0 213.0) scale(1.053 1.053)"/>
<rect x="473.0" y="318.0" width="5.0" height="28.0" fill="#a9592f"/>
<use href="#tp" transform="translate(457.0 257.0) scale(0.902 1.014)"/>
<rect x="508.5" y="315.0" width="5.0" height="25.0" fill="#a9592f"/>
<use href="#tp" transform="translate(493.0 257.0) scale(0.878 0.971)"/>
<clipPath id="c41"><rect x="522.0" y="252.0" width="55.0" height="84.0"/></clipPath>
<g clip-path="url(#c41)"><use href="#tb" transform="translate(572.0 257.0) scale(-0.789 0.789)"/></g>
<clipPath id="c43"><rect x="560.0" y="255.0" width="68.0" height="76.0"/></clipPath>
<g clip-path="url(#c43)"><use href="#tb" transform="translate(565.0 260.0) scale(1.018 1.018)"/></g>
<use href="#tr" transform="translate(552.0 304.0) scale(1.000 1.045)"/>
<use href="#to" transform="translate(572.0 305.0) scale(1.038 1.023)"/>
<use href="#tf" transform="translate(453.0 313.0) scale(0.947 0.889)"/>
<use href="#tf" transform="translate(527.0 313.0) scale(1.000 0.778)"/>
<use href="#tr" transform="translate(595.0 327.0) scale(1.154 1.159)"/>
<rect x="644.5" y="382.0" width="5.0" height="35.0" fill="#a9592f"/>
<use href="#tp" transform="translate(627.0 312.0) scale(0.976 1.143)"/>
<use href="#tf" transform="translate(666.0 348.0) scale(1.000 1.156)"/>
<clipPath id="c53"><rect x="560.0" y="366.0" width="70.0" height="93.5"/></clipPath>
<g clip-path="url(#c53)"><use href="#tb" transform="translate(625.0 371.0) scale(-1.053 1.053)"/></g>
<use href="#tf" transform="translate(617.0 377.0) scale(1.000 1.111)"/>
<clipPath id="c56"><rect x="872.0" y="290.0" width="70.0" height="96.0"/></clipPath>
<g clip-path="url(#c56)"><use href="#tb" transform="translate(877.0 295.0) scale(1.053 1.053)"/></g>
<clipPath id="c58"><rect x="902.7" y="381.0" width="69.0" height="82.0"/></clipPath>
<g clip-path="url(#c58)"><use href="#tb" transform="translate(907.7 386.0) scale(1.035 1.035)"/></g>
<clipPath id="c60"><rect x="945.0" y="416.0" width="67.0" height="65.6"/></clipPath>
<g clip-path="url(#c60)"><use href="#tb" transform="translate(1007.0 421.0) scale(-1.000 1.000)"/></g>
<clipPath id="c62"><rect x="972.0" y="459.0" width="69.0" height="60.5"/></clipPath>
<g clip-path="url(#c62)"><use href="#tb" transform="translate(977.0 464.0) scale(1.035 1.035)"/></g>
<use href="#tb" transform="translate(948.8 902.0) scale(1.011 1.011)"/>
<use href="#tb" transform="translate(1003.0 915.6) scale(0.958 0.958)"/>
<use href="#tb" transform="translate(1055.5 900.0) scale(0.991 0.991)"/>
<use href="#tb" transform="translate(1097.0 911.0) scale(0.965 0.965)"/>
<use href="#tb" transform="translate(1149.7 900.0) scale(0.988 0.988)"/>
<use href="#tb" transform="translate(1204.0 909.0) scale(0.956 0.956)"/>
<rect x="403.0" y="696.0" width="5.0" height="32.0" fill="#a9592f"/>
<use href="#tp" transform="translate(385.0 636.5) scale(1.000 0.993)"/>
<use href="#tf" transform="translate(350.0 741.0) scale(0.579 0.689)"/>
<rect x="363.2" y="727.0" width="5.0" height="17.0" fill="#9bb03a"/>
<use href="#tp" transform="translate(345.0 667.0) scale(1.012 1.000)"/>
<clipPath id="c75"><rect x="269.0" y="700.0" width="70.0" height="90.0"/></clipPath>
<g clip-path="url(#c75)"><use href="#tb" transform="translate(334.0 705.0) scale(-1.053 1.053)"/></g>
<use href="#tb" transform="translate(234.0 744.0) scale(0.860 0.860)"/>
<rect x="287.5" y="843.8" width="5.0" height="33.2" fill="#a9592f"/>
<use href="#tp" transform="translate(269.7 780.6) scale(0.993 1.046)"/>
<clipPath id="c80"><rect x="294.0" y="752.7" width="67.0" height="94.0"/></clipPath>
<g clip-path="url(#c80)"><use href="#tb" transform="translate(299.0 757.7) scale(1.000 1.000)"/></g>
<use href="#tf" transform="translate(305.3 825.4) scale(0.992 0.991)"/>
<use href="#tr" transform="translate(487.5 830.0) scale(1.204 0.955)"/>
<use href="#tr" transform="translate(535.0 832.0) scale(1.154 0.909)"/>
<use href="#tr" transform="translate(562.5 832.0) scale(1.204 0.909)"/>
<ellipse cx="532" cy="827" rx="12.5" ry="13" fill="url(#gM)"/><ellipse cx="532" cy="847" rx="15.5" ry="15" fill="url(#gM)"/><rect x="531" y="858" width="2.5" height="14" fill="#8a5a3c"/>
<use href="#bu" transform="translate(493.5 869.0) scale(1.136 1.136)"/>
<use href="#bu" transform="translate(517.5 869.0) scale(1.136 1.136)"/>
<use href="#bu" transform="translate(542.5 869.0) scale(1.136 1.136)"/>
<use href="#bu" transform="translate(566.3 869.0) scale(1.136 1.136)"/>
<use href="#tf" transform="translate(1297.5 728.0) scale(0.961 1.022)"/>
<use href="#tf" transform="translate(1331.0 729.0) scale(1.263 1.311)"/>
<rect x="1517.0" y="828.0" width="5.0" height="33.5" fill="#a9592f"/>
<use href="#tp" transform="translate(1499.0 769.0) scale(1.000 0.986)"/>
<use href="#tf" transform="translate(1511.0 830.0) scale(1.526 1.533)"/>
<use href="#tb" transform="translate(1550.0 838.0) scale(0.965 0.965)"/>
<rect x="1615.8" y="900.0" width="5.0" height="33.0" fill="#a9592f"/>
<use href="#tp" transform="translate(1597.5 841.5) scale(1.012 0.979)"/>
<use href="#tf" transform="translate(1536.0 889.0) scale(1.579 1.533)"/>
<use href="#tf" transform="translate(1355.0 884.0) scale(1.053 1.133)"/>
<use href="#tr" transform="translate(1052.0 605.0) scale(1.000 0.841)"/>
<use href="#to" transform="translate(1076.0 607.0) scale(1.038 0.841)"/>
<use href="#bu" transform="translate(1061.0 639.0) scale(1.000 1.000)"/>
<use href="#bu" transform="translate(1077.0 645.0) scale(1.000 1.000)"/>
<use href="#tr" transform="translate(1178.0 685.5) scale(1.115 0.852)"/>
<use href="#to" transform="translate(1203.0 690.0) scale(1.000 0.852)"/>
<use href="#bu" transform="translate(1187.6 722.0) scale(1.000 1.000)"/>
<use href="#bu" transform="translate(1203.0 728.0) scale(1.000 1.000)"/>
<use href="#tb" transform="translate(543.0 541.0) scale(0.580 0.580)"/>
<use href="#bu" transform="translate(558.8 599.6) scale(0.909 0.909)"/>
<use href="#bu" transform="translate(557.8 602.6) scale(0.909 0.909)"/>
<use href="#bu" transform="translate(602.3 602.6) scale(0.909 0.909)"/>
<use href="#bu" transform="translate(686.8 602.6) scale(0.909 0.909)"/>
<use href="#bu" transform="translate(712.0 602.6) scale(0.909 0.909)"/>
<use href="#bu" transform="translate(750.5 602.6) scale(0.909 0.909)"/>
<use href="#bu" transform="translate(766.0 602.6) scale(0.909 0.909)"/>
<use href="#bu" transform="translate(823.7 602.6) scale(0.909 0.909)"/>
<use href="#bu" transform="translate(841.0 602.6) scale(0.909 0.909)"/>
<use href="#bu" transform="translate(860.5 602.6) scale(0.909 0.909)"/>
<use href="#bu" transform="translate(878.8 602.6) scale(0.909 0.909)"/>
<use href="#bu" transform="translate(897.0 602.6) scale(0.909 0.909)"/>
<use href="#bu" transform="translate(926.7 602.6) scale(0.909 0.909)"/>
<use href="#bu" transform="translate(938.9 602.6) scale(0.909 0.909)"/>
<use href="#bu" transform="translate(951.0 602.6) scale(0.909 0.909)"/>
<use href="#bu" transform="translate(965.0 602.6) scale(0.909 0.909)"/>
<use href="#to" transform="translate(929.0 570.0) scale(0.923 0.818)"/>
<ellipse cx="698" cy="590" rx="10" ry="11" fill="#9ccc4a"/><ellipse cx="697" cy="588" rx="7" ry="7" fill="#b2d95a"/>
<path d="M744 606 L744 596 M775 604 L775 594" stroke="#8a5a3c" stroke-width="1.4"/>
</g>
<clipPath id="tc1"><rect x="145.3" y="88.5" width="144.4" height="49.2"/></clipPath><g clip-path="url(#tc1)"><text x="151.3" y="134.5" font-size="46.4" font-weight="bold" fill="#709fc6" textLength="132.4" lengthAdjust="spacingAndGlyphs" >РЕКА КАМА</text></g>
<clipPath id="tc2"><rect x="100.3" y="528.0" width="157.0" height="49.2"/></clipPath><g clip-path="url(#tc2)"><text x="106.3" y="574.0" font-size="46.4" font-weight="bold" fill="#709fc6" textLength="145.0" lengthAdjust="spacingAndGlyphs" >ВОТКИНСКОЕ</text></g>
<clipPath id="tc3"><rect x="69.0" y="574.0" width="219.5" height="48.2"/></clipPath><g clip-path="url(#tc3)"><text x="75.0" y="619.0" font-size="44.9" font-weight="bold" fill="#709fc6" textLength="207.5" lengthAdjust="spacingAndGlyphs" >ВОДОХРАНИЛИЩЕ</text></g>
<clipPath id="tc4"><rect x="1369.0" y="375.5" width="157.0" height="48.5"/></clipPath><g clip-path="url(#tc4)"><text x="1375.0" y="420.8" font-size="45.4" font-weight="bold" fill="#709fc6" textLength="145.0" lengthAdjust="spacingAndGlyphs" >ВОТКИНСКОЕ</text></g>
<clipPath id="tc5"><rect x="1337.8" y="421.8" width="220.7" height="48.4"/></clipPath><g clip-path="url(#tc5)"><text x="1343.8" y="467.0" font-size="45.2" font-weight="bold" fill="#709fc6" textLength="208.7" lengthAdjust="spacingAndGlyphs" >ВОДОХРАНИЛИЩЕ</text></g>
<clipPath id="tc6"><rect x="59.0" y="1079.5" width="129.0" height="40.7"/></clipPath><g clip-path="url(#tc6)"><text x="65.0" y="1117.0" font-size="34.1" font-weight="bold" fill="#b1c7dc" textLength="117.0" lengthAdjust="spacingAndGlyphs" >МИКРОРАЙОН</text></g>
<clipPath id="tc7"><rect x="59.0" y="1115.8" width="100.0" height="39.7"/></clipPath><g clip-path="url(#tc7)"><text x="65.0" y="1152.3" font-size="32.6" font-weight="bold" fill="#b1c7dc" textLength="88.0" lengthAdjust="spacingAndGlyphs" >ОСНОВНОЙ</text></g>
<clipPath id="tc8"><rect x="469.0" y="1050.8" width="779.0" height="52.0"/><rect x="1228" y="1085" width="20" height="24"/></clipPath><g clip-path="url(#tc8)"><text y="1099.0" font-size="49.6" font-weight="bold" fill="#2a4a7f"><tspan x="475.0" textLength="171.5" lengthAdjust="spacingAndGlyphs">ИНТЕРЕСНЫЕ</tspan> <tspan x="660.0" textLength="12.5" lengthAdjust="spacingAndGlyphs">И</tspan> <tspan x="687.5" textLength="153.0" lengthAdjust="spacingAndGlyphs">ЗНАЧИМЫЕ</tspan> <tspan x="855.0" textLength="81.0" lengthAdjust="spacingAndGlyphs">МЕСТА</tspan> <tspan x="950.0" textLength="105.0" lengthAdjust="spacingAndGlyphs">ГОРОДА</tspan> <tspan x="1068.8" textLength="171.2" lengthAdjust="spacingAndGlyphs">ЧАЙКОВСКИЙ,</tspan></text></g>
<clipPath id="tc9"><rect x="696.5" y="1103.0" width="324.0" height="52.3"/><rect x="1228" y="1085" width="20" height="24"/></clipPath><g clip-path="url(#tc9)"><text y="1151.5" font-size="50.0" font-weight="bold" fill="#2a4a7f"><tspan x="702.5" textLength="55.0" lengthAdjust="spacingAndGlyphs">ГДЕ</tspan> <tspan x="772.5" textLength="76.3" lengthAdjust="spacingAndGlyphs">СТОИТ</tspan> <tspan x="866.0" textLength="146.5" lengthAdjust="spacingAndGlyphs">ПОБЫВАТЬ!</tspan></text></g>
<text class="st" x="624.0" y="626.4" font-size="13.6" textLength="89.0" lengthAdjust="spacingAndGlyphs">УЛИЦА ЛЕНИНА</text>
<text class="st" x="857.0" y="626.4" font-size="13.6" textLength="89.0" lengthAdjust="spacingAndGlyphs">УЛИЦА ЛЕНИНА</text>
<text class="st" x="695.8" y="784.0" font-size="13.6" textLength="74.2" lengthAdjust="spacingAndGlyphs">УЛИЦА МИРА</text>
<text class="st" x="209.3" y="901.8" font-size="13.6" textLength="118.4" lengthAdjust="spacingAndGlyphs">УЛИЦА ВОКЗАЛЬНАЯ</text>
<text class="st" x="472.5" y="901.8" font-size="13.6" textLength="119.5" lengthAdjust="spacingAndGlyphs">УЛИЦА ВОКЗАЛЬНАЯ</text>
<text class="st" x="952.5" y="901.8" font-size="13.6" textLength="118.5" lengthAdjust="spacingAndGlyphs">УЛИЦА ВОКЗАЛЬНАЯ</text>
<text class="st" transform="translate(802.5 767.0) rotate(-90.0)" x="0" y="0" font-size="13.6" textLength="130.0" lengthAdjust="spacingAndGlyphs">УЛИЦА КАРЛА МАРКСА</text>
<text class="st" transform="translate(672.5 869.0) rotate(-90.0)" x="0" y="0" font-size="13.6" textLength="136.5" lengthAdjust="spacingAndGlyphs">ПРИМОРСКИЙ БУЛЬВАР</text>
<text class="st" transform="translate(577.5 491.5) rotate(-37.9)" x="0" y="0" font-size="14.2" textLength="137.5" lengthAdjust="spacingAndGlyphs">УЛИЦА КАБАЛЕВСКОГО</text>
<text class="st" transform="translate(953.0 767.5) rotate(-40.6)" x="0" y="0" font-size="14.2" textLength="80.7" lengthAdjust="spacingAndGlyphs">УЛИЦА МИРА</text>
<text class="st" transform="translate(1122.0 727.5) rotate(23.5)" x="0" y="0" font-size="14.2" textLength="91.8" lengthAdjust="spacingAndGlyphs">УЛИЦА ЛЕНИНА</text>
<defs><clipPath id="ph"><path d="M-45.31 9.50 A46.3 46.3 0 1 1 45.31 9.50 Z"/></clipPath><clipPath id="phc"><circle r="46.3"/></clipPath></defs>
<g clip-path="url(#frame)">
<g><path d="M739.9 159.6 L757.0 196.2 L723.2 173.1 Z" fill="#fff" stroke="#fff" stroke-width="2" stroke-linejoin="round"/><circle cx="698.4" cy="125.4" r="55.3" fill="#fff"/><path d="M739.9 159.6 L757.0 196.2 L723.2 173.1 Z" fill="#2a4a7f"/><circle cx="698.4" cy="125.4" r="54.3" fill="#2a4a7f"/><circle cx="698.4" cy="125.4" r="46.3" fill="#eef2f8"/><g transform="translate(698.4 125.4)"><g clip-path="url(#ph)"><rect x="-47.0" y="-47.0" width="94.0" height="20.0" fill="#5ea6ea" /><rect x="-47.0" y="-33.0" width="94.0" height="22.0" fill="#4f8f3d" /><ellipse cx="-20.0" cy="-30.0" rx="14.0" ry="7.0" fill="#6aa548" /><ellipse cx="15.0" cy="-31.0" rx="16.0" ry="7.0" fill="#5f9c40" /><ellipse cx="38.0" cy="-28.0" rx="10.0" ry="7.0" fill="#6aa548" /><rect x="-47.0" y="-14.0" width="94.0" height="24.0" fill="#b9a68f" /><rect x="-40.0" y="-19.0" width="22.0" height="9.0" fill="#2f80d8" /><rect x="-18.0" y="-15.0" width="45.0" height="4.0" fill="#3a86d6" /><rect x="-36.0" y="-10.0" width="7.0" height="6.0" fill="#d9b24a" /><rect x="-17.0" y="-10.0" width="5.0" height="5.0" fill="#d9b24a" /><rect x="-47.0" y="0.0" width="94.0" height="10.0" fill="#b3a08c" /></g></g><clipPath id="tc10"><rect x="679.5" y="141.5" width="34.1" height="15.4"/></clipPath><g clip-path="url(#tc10)"><text class="lb" x="682.5" y="155.3" font-size="13.8" textLength="28.1" lengthAdjust="spacingAndGlyphs">ПЛЯЖ</text></g></g>
<g><path d="M746.0 316.0 L766.8 353.2 L729.3 329.5 Z" fill="#fff" stroke="#fff" stroke-width="2" stroke-linejoin="round"/><circle cx="704.5" cy="281.8" r="55.3" fill="#fff"/><path d="M746.0 316.0 L766.8 353.2 L729.3 329.5 Z" fill="#2a4a7f"/><circle cx="704.5" cy="281.8" r="54.3" fill="#2a4a7f"/><circle cx="704.5" cy="281.8" r="46.3" fill="#eef2f8"/><g transform="translate(704.5 281.8)"><g clip-path="url(#ph)"><rect x="-47.0" y="-47.0" width="94.0" height="57.0" fill="#8fc4f2" /><ellipse cx="-25.0" cy="-30.0" rx="14.0" ry="6.0" fill="#e8f2fb" /><ellipse cx="22.0" cy="-34.0" rx="12.0" ry="5.0" fill="#e8f2fb" /><ellipse cx="-36.0" cy="-5.0" rx="14.0" ry="24.0" fill="#2f4a2b" /><ellipse cx="36.0" cy="-8.0" rx="15.0" ry="27.0" fill="#2b4728" /><ellipse cx="-12.0" cy="-8.0" rx="8.0" ry="14.0" fill="#3f5f37" /><ellipse cx="14.0" cy="-8.0" rx="8.0" ry="15.0" fill="#3a5a33" /><rect x="-47.0" y="4.0" width="94.0" height="6.0" fill="#5d8a3f" /><path d="M-22 5 L-14 -12 L14 -12 L22 5Z" fill="#f1f1ef" /><rect x="-3.0" y="-44.0" width="6.0" height="50.0" fill="#dfe3e6" /><rect x="-4.5" y="-46.0" width="9.0" height="3.0" fill="#555" /></g></g><clipPath id="tc11"><rect x="686.5" y="290.0" width="34.3" height="15.4"/></clipPath><g clip-path="url(#tc11)"><text class="lb" x="689.5" y="303.8" font-size="13.8" textLength="28.3" lengthAdjust="spacingAndGlyphs">СТЕЛА</text></g><clipPath id="tc12"><rect x="676.7" y="303.8" width="54.8" height="15.4"/></clipPath><g clip-path="url(#tc12)"><text class="lb" x="679.7" y="317.6" font-size="13.8" textLength="48.8" lengthAdjust="spacingAndGlyphs">ПИОНЕРИИ</text></g></g>
<g><path d="M543.0 430.8 L559.9 469.0 L526.3 444.3 Z" fill="#fff" stroke="#fff" stroke-width="2" stroke-linejoin="round"/><circle cx="501.5" cy="396.6" r="55.3" fill="#fff"/><path d="M543.0 430.8 L559.9 469.0 L526.3 444.3 Z" fill="#2a4a7f"/><circle cx="501.5" cy="396.6" r="54.3" fill="#2a4a7f"/><circle cx="501.5" cy="396.6" r="46.3" fill="#eef2f8"/><g transform="translate(501.5 396.6)"><g clip-path="url(#ph)"><rect x="-47.0" y="-47.0" width="94.0" height="57.0" fill="#5a8539" /><ellipse cx="-30.0" cy="-30.0" rx="18.0" ry="14.0" fill="#6c9a45" /><ellipse cx="28.0" cy="-16.0" rx="20.0" ry="20.0" fill="#44702f" /><ellipse cx="2.0" cy="-44.0" rx="22.0" ry="8.0" fill="#86ad5a" /><ellipse cx="-36.0" cy="-6.0" rx="12.0" ry="12.0" fill="#3f6a2d" /><ellipse cx="8.0" cy="-6.0" rx="16.0" ry="10.0" fill="#4f7b34" /><ellipse cx="-8.0" cy="-24.0" rx="14.0" ry="10.0" fill="#6a9444" /><circle cx="-1" cy="-14" r="26" fill="none" stroke="#b9b7ae" stroke-width="1.3"/><circle cx="-1" cy="-14" r="13" fill="none" stroke="#a9a79e" stroke-width="0.9"/><line x1="-1" y1="-14" x2="25.0" y2="-14.0" stroke="#b9b7ae" stroke-width="0.9"/><line x1="-1" y1="-14" x2="21.5" y2="-1.0" stroke="#b9b7ae" stroke-width="0.9"/><line x1="-1" y1="-14" x2="12.0" y2="8.5" stroke="#b9b7ae" stroke-width="0.9"/><line x1="-1" y1="-14" x2="-1.0" y2="12.0" stroke="#b9b7ae" stroke-width="0.9"/><line x1="-1" y1="-14" x2="-14.0" y2="8.5" stroke="#b9b7ae" stroke-width="0.9"/><line x1="-1" y1="-14" x2="-23.5" y2="-1.0" stroke="#b9b7ae" stroke-width="0.9"/><line x1="-1" y1="-14" x2="-27.0" y2="-14.0" stroke="#b9b7ae" stroke-width="0.9"/><line x1="-1" y1="-14" x2="-23.5" y2="-27.0" stroke="#b9b7ae" stroke-width="0.9"/><line x1="-1" y1="-14" x2="-14.0" y2="-36.5" stroke="#b9b7ae" stroke-width="0.9"/><line x1="-1" y1="-14" x2="-1.0" y2="-40.0" stroke="#b9b7ae" stroke-width="0.9"/><line x1="-1" y1="-14" x2="12.0" y2="-36.5" stroke="#b9b7ae" stroke-width="0.9"/><line x1="-1" y1="-14" x2="21.5" y2="-27.0" stroke="#b9b7ae" stroke-width="0.9"/><ellipse cx="-28.0" cy="-21.0" rx="4.6" ry="3.8" fill="#f0d21e" /><ellipse cx="-19.7" cy="-34.1" rx="4.6" ry="3.8" fill="#2f9a45" /><ellipse cx="-4.9" cy="-40.7" rx="4.6" ry="3.8" fill="#e0303a" /><ellipse cx="9.5" cy="-39.0" rx="4.6" ry="3.8" fill="#3a3fb0" /><ellipse cx="21.1" cy="-30.6" rx="4.6" ry="3.8" fill="#f0d21e" /><ellipse cx="26.7" cy="-17.8" rx="4.6" ry="3.8" fill="#e86a7a" /><ellipse cx="24.4" cy="-2.6" rx="4.6" ry="3.8" fill="#6a9ae0" /><ellipse cx="-25.2" cy="-0.5" rx="4.6" ry="3.8" fill="#e0303a" /><ellipse cx="-14.0" cy="3.0" rx="4.0" ry="3.0" fill="#3aa65a" /><ellipse cx="4.0" cy="4.0" rx="4.0" ry="3.0" fill="#e8d23a" /><ellipse cx="-24.0" cy="4.0" rx="4.0" ry="3.0" fill="#d86a6a" /><rect x="-47.0" y="4.0" width="94.0" height="6.0" fill="#77777c" /><rect x="-32.0" y="5.5" width="66.0" height="2.0" fill="#d9dadd" /><path d="M-47 -4 Q-38 -8 -34 4 L-47 4Z" fill="#2fb45a" /><rect x="-47.0" y="3.0" width="7.0" height="7.0" fill="#c8323a" /><rect x="-39.0" y="3.0" width="5.0" height="7.0" fill="#e6ece8" /><ellipse cx="40.0" cy="4.0" rx="9.0" ry="8.0" fill="#c9a58a" /></g></g><clipPath id="tc13"><rect x="486.4" y="413.9" width="30.4" height="15.4"/></clipPath><g clip-path="url(#tc13)"><text class="lb" x="489.4" y="427.7" font-size="13.8" textLength="24.4" lengthAdjust="spacingAndGlyphs">ПАРК</text></g></g>
<g><path d="M531.6 582.2 L546.8 617.0 L514.9 595.7 Z" fill="#fff" stroke="#fff" stroke-width="2" stroke-linejoin="round"/><circle cx="490.1" cy="548.0" r="55.3" fill="#fff"/><path d="M531.6 582.2 L546.8 617.0 L514.9 595.7 Z" fill="#2a4a7f"/><circle cx="490.1" cy="548.0" r="54.3" fill="#2a4a7f"/><circle cx="490.1" cy="548.0" r="46.3" fill="#eef2f8"/><g transform="translate(490.1 548.0)"><g clip-path="url(#ph)"><rect x="-47.0" y="-47.0" width="94.0" height="57.0" fill="#3b4248" /><path d="M-47 -47 L47 -47 L47 -30 L10 -22 L-47 -5Z" fill="#7d7b6f" /><ellipse cx="-5.0" cy="-32.0" rx="22.0" ry="6.0" fill="#4d6b3c" /><ellipse cx="-30.0" cy="-36.0" rx="10.0" ry="5.0" fill="#55703f" /><path d="M-47 -8 L-15 -18 L-8 -2 L-47 10Z" fill="#8f897d" /><path d="M-30 2 L24 -22 L30 -18 L28 -10 L-24 9 L-30 8Z" fill="#f4f6f8" /><path d="M-22 -1 L18 -18 L20 -14 L-20 3Z" fill="#3d79c4" /><path d="M-28 7 L26 -12 L27 -9 L-24 10Z" fill="#b63a3a" /></g></g><clipPath id="tc14"><rect x="455.1" y="561.7" width="69.0" height="15.4"/></clipPath><g clip-path="url(#tc14)"><text class="lb" x="458.1" y="575.5" font-size="13.8" textLength="63.0" lengthAdjust="spacingAndGlyphs">РЕЧНОЙ ПОРТ</text></g></g>
<g><path d="M661.2 581.7 L668.0 601.0 L644.5 595.2 Z" fill="#fff" stroke="#fff" stroke-width="2" stroke-linejoin="round"/><circle cx="619.7" cy="547.5" r="55.3" fill="#fff"/><path d="M661.2 581.7 L668.0 601.0 L644.5 595.2 Z" fill="#2a4a7f"/><circle cx="619.7" cy="547.5" r="54.3" fill="#2a4a7f"/><circle cx="619.7" cy="547.5" r="46.3" fill="#eef2f8"/><g transform="translate(619.7 547.5)"><g clip-path="url(#ph)"><rect x="-47.0" y="-47.0" width="94.0" height="57.0" fill="#e4ebf3" /><ellipse cx="-22.0" cy="-32.0" rx="14.0" ry="12.0" fill="#6f8f57" /><ellipse cx="30.0" cy="-28.0" rx="18.0" ry="14.0" fill="#7c9c5e" /><ellipse cx="14.0" cy="-36.0" rx="8.0" ry="8.0" fill="#8aa868" /><rect x="-5.0" y="-46.0" width="10.0" height="14.0" fill="#cfc8ba" /><rect x="-3.0" y="-46.0" width="6.0" height="8.0" fill="#8a8578" /><rect x="-47.0" y="-26.0" width="20.0" height="30.0" fill="#6a6356" /><rect x="-44.0" y="-20.0" width="6.0" height="14.0" fill="#4a453c" /><rect x="32.0" y="-14.0" width="15.0" height="12.0" fill="#ddd8cc" /><rect x="36.0" y="-20.0" width="11.0" height="8.0" fill="#c9bfa8" /><ellipse cx="-2.0" cy="-22.0" rx="30.0" ry="12.0" fill="#4f5246" /><ellipse cx="-10.0" cy="-26.0" rx="16.0" ry="7.0" fill="#62665a" /><ellipse cx="10.0" cy="-20.0" rx="16.0" ry="8.0" fill="#5b5e50" /><path d="M-30 -18 Q-2 -6 27 -18 L24 -12 L-28 -12Z" fill="#3f4238" /><path d="M-37 -12.7 L34 -12.7 L31 0 L-34 0Z" fill="#a58f88" /><rect x="-30.0" y="-9.0" width="58.0" height="3.0" fill="#8e7a74" /><rect x="-34.0" y="0.0" width="66.0" height="5.4" fill="#41593a" /><rect x="-47.0" y="5.4" width="94.0" height="5.0" fill="#d9d4c9" /><rect x="-47.0" y="-2.0" width="12.0" height="8.0" fill="#cfc9bd" /></g></g><clipPath id="tc15"><rect x="601.4" y="556.8" width="35.6" height="15.4"/></clipPath><g clip-path="url(#tc15)"><text class="lb" x="604.4" y="570.6" font-size="13.8" textLength="29.6" lengthAdjust="spacingAndGlyphs">СКВЕР</text></g><path id="arc1" d="M579.83 563.61 A43.0 43.0 0 0 0 659.57 563.61" fill="none"/><text class="lb" font-size="13.4"><textPath href="#arc1" textLength="102.1" lengthAdjust="spacingAndGlyphs">ПЕРВОСТРОИТЕЛЕЙ</textPath></text></g>
<g><path d="M726.5 595.2 L701.5 601.5 L709.8 581.7 Z" fill="#fff" stroke="#fff" stroke-width="2" stroke-linejoin="round"/><circle cx="751.3" cy="547.5" r="55.3" fill="#fff"/><path d="M726.5 595.2 L701.5 601.5 L709.8 581.7 Z" fill="#2a4a7f"/><circle cx="751.3" cy="547.5" r="54.3" fill="#2a4a7f"/><circle cx="751.3" cy="547.5" r="46.3" fill="#eef2f8"/><g transform="translate(751.3 547.5)"><g clip-path="url(#ph)"><rect x="-47.0" y="-47.0" width="94.0" height="57.0" fill="#f0e4d2" /><rect x="-40.0" y="-47.0" width="10.0" height="40.0" fill="#f8f1e6" /><rect x="-24.0" y="-47.0" width="8.0" height="38.0" fill="#f6eee2" /><rect x="22.0" y="-44.0" width="26.0" height="30.0" fill="#ecdcc4" /><rect x="30.0" y="-34.0" width="10.0" height="16.0" fill="#d9b463" /><rect x="-47.0" y="-47.0" width="94.0" height="8.0" fill="#e9d8c0" /><path d="M-47 -10 L47 -14 L47 10 L-47 10Z" fill="#f1e7da" /><path d="M14 -12 L47 -14 L47 2 L18 4Z" fill="#d5dccb" /><path d="M18 -6 L47 -8 L47 -3 L19 -1Z" fill="#e8c9c0" /><ellipse cx="2.0" cy="-1.0" rx="18.5" ry="16.0" fill="#1c2a23" /><ellipse cx="2.0" cy="-27.0" rx="13.0" ry="14.0" fill="#d8282c" /><path d="M-12 -22 Q-16 -6 -8 -4 L12 -4 Q20 -6 16 -22Z" fill="#d8282c" /><ellipse cx="2.5" cy="-28.0" rx="8.0" ry="8.5" fill="#f4dcc4" /><path d="M-5.5 -31 Q2.5 -40 10.5 -31 Q2.5 -34 -5.5 -31Z" fill="#2a1a15" /><ellipse cx="-0.5" cy="-28.0" rx="1.0" ry="1.2" fill="#333" /><ellipse cx="5.5" cy="-28.0" rx="1.0" ry="1.2" fill="#333" /><ellipse cx="2.5" cy="-24.0" rx="1.6" ry="0.8" fill="#c33" /><ellipse cx="1.5" cy="1.0" rx="8.0" ry="8.0" fill="#e8912c" /><ellipse cx="1.5" cy="1.0" rx="4.0" ry="4.0" fill="#f3b453" /><ellipse cx="-10.0" cy="-4.0" rx="3.0" ry="2.0" fill="#d8a030" /><ellipse cx="13.0" cy="-4.0" rx="3.0" ry="2.0" fill="#d8a030" /></g></g><clipPath id="tc16"><rect x="717.4" y="558.8" width="66.1" height="15.4"/></clipPath><g clip-path="url(#tc16)"><text class="lb" x="720.4" y="572.6" font-size="13.8" textLength="60.1" lengthAdjust="spacingAndGlyphs">СУВЕНИРНАЯ</text></g><clipPath id="tc17"><rect x="732.2" y="571.0" width="36.5" height="15.4"/></clipPath><g clip-path="url(#tc17)"><text class="lb" x="735.2" y="584.8" font-size="13.8" textLength="30.5" lengthAdjust="spacingAndGlyphs">ЛАВКА</text></g></g>
<g><path d="M966.9 358.2 L932.5 379.5 L950.2 344.7 Z" fill="#fff" stroke="#fff" stroke-width="2" stroke-linejoin="round"/><circle cx="991.8" cy="310.5" r="55.3" fill="#fff"/><path d="M966.9 358.2 L932.5 379.5 L950.2 344.7 Z" fill="#2a4a7f"/><circle cx="991.8" cy="310.5" r="54.3" fill="#2a4a7f"/><circle cx="991.8" cy="310.5" r="46.3" fill="#eef2f8"/><g transform="translate(991.8 310.5)"><g clip-path="url(#ph)"><rect x="-47.0" y="-47.0" width="94.0" height="57.0" fill="#f2f2ee" /><path d="M-47 -18 L-39.5 -22 Q-32 -34 -24 -37 Q-16 -36 -9 -32 Q-2 -28 4.4 -23 L4 -20 L-47 -12Z" fill="#5f853a" /><path d="M-40 -20 Q-30 -24 -20 -22 L-8 -22 L-47 -14Z" fill="#8aa24a" /><path d="M-14 -22.6 L47 -22.6 L47 10 L10 10Z" fill="#a6b0cd" /><path d="M-14 -22.6 L47 -22.6 L47 -14 L0 -18Z" fill="#c3c9dc" /><path d="M-47 -14 L-26 -21.4 L-15 9.5 L-47 9.5Z" fill="#8d837b" /><path d="M-26 -21.4 L-22 -21.4 L9.3 9.5 L-15 9.5Z" fill="#6f6055" /><path d="M-25 -21 L-21 -19 L-4 9.5 L-9 9.5Z" fill="#3d3836" /><path d="M-24 -21.4 L-18 -20.5 L46 -0.6 L46 9.5 L9.3 9.5Z" fill="#23252f" /><path d="M-10 -16 L-7 -15 L-7 -8 L-10 -10Z" fill="#c9c6cf" /><line x1="12.0" y1="-8.0" x2="12.0" y2="9.5" stroke="#6d7080" stroke-width="0.9"/><line x1="16.2" y1="-6.7" x2="16.2" y2="9.5" stroke="#6d7080" stroke-width="0.9"/><line x1="20.4" y1="-5.4" x2="20.4" y2="9.5" stroke="#6d7080" stroke-width="0.9"/><line x1="24.6" y1="-4.1" x2="24.6" y2="9.5" stroke="#6d7080" stroke-width="0.9"/><line x1="28.8" y1="-2.8" x2="28.8" y2="9.5" stroke="#6d7080" stroke-width="0.9"/><line x1="33.0" y1="-1.5" x2="33.0" y2="9.5" stroke="#6d7080" stroke-width="0.9"/><line x1="37.2" y1="-0.2" x2="37.2" y2="9.5" stroke="#6d7080" stroke-width="0.9"/><line x1="41.4" y1="1.1" x2="41.4" y2="9.5" stroke="#6d7080" stroke-width="0.9"/></g></g><clipPath id="tc18"><rect x="957.0" y="324.4" width="69.8" height="15.4"/></clipPath><g clip-path="url(#tc18)"><text class="lb" x="960.0" y="338.2" font-size="13.8" textLength="63.8" lengthAdjust="spacingAndGlyphs">НАБЕРЕЖНАЯ</text></g></g>
<g><path d="M897.5 561.3 L828.0 588.0 L880.8 547.8 Z" fill="#fff" stroke="#fff" stroke-width="2" stroke-linejoin="round"/><circle cx="922.3" cy="513.6" r="55.3" fill="#fff"/><path d="M897.5 561.3 L828.0 588.0 L880.8 547.8 Z" fill="#2a4a7f"/><circle cx="922.3" cy="513.6" r="54.3" fill="#2a4a7f"/><circle cx="922.3" cy="513.6" r="46.3" fill="#eef2f8"/><g transform="translate(922.3 513.6)"><g clip-path="url(#ph)"><rect x="-47.0" y="-47.0" width="94.0" height="57.0" fill="#2f84e6" /><rect x="-47.0" y="-47.0" width="94.0" height="12.0" fill="#2a78dc" /><ellipse cx="-30.0" cy="-14.0" rx="14.0" ry="8.0" fill="#3b5a35" /><ellipse cx="-8.0" cy="-16.0" rx="10.0" ry="7.0" fill="#2f4a2d" /><ellipse cx="8.0" cy="-14.0" rx="6.0" ry="5.0" fill="#3b5a35" /><rect x="22.0" y="-18.0" width="25.0" height="12.0" fill="#4a4f58" /><rect x="-47.0" y="-18.0" width="12.0" height="10.0" fill="#8a8478" /><rect x="-47.0" y="-8.0" width="94.0" height="10.0" fill="#aeb6bd" /><rect x="-47.0" y="0.0" width="94.0" height="6.0" fill="#cfd5da" /><rect x="-47.0" y="5.0" width="94.0" height="5.0" fill="#3c3f44" /><path d="M-5 -2 L-3 -38 L-1 -2Z" fill="#f4f8fc" /><path d="M10 -2 L12 -22 L14 -2Z" fill="#f4f8fc" /><path d="M-20 -2 L-18 -16 L-16 -2Z" fill="#e6eef6" /><path d="M28 -2 L30 -14 L32 -2Z" fill="#e6eef6" /><path d="M-34 -2 L-32 -12 L-30 -2Z" fill="#e6eef6" /></g></g><clipPath id="tc19"><rect x="896.2" y="521.4" width="52.2" height="15.4"/></clipPath><g clip-path="url(#tc19)"><text class="lb" x="899.2" y="535.2" font-size="13.8" textLength="46.2" lengthAdjust="spacingAndGlyphs">ПЛОЩАДЬ</text></g><path id="arc2" d="M887.08 538.26 A43.0 43.0 0 0 0 956.64 539.48" fill="none"/><text class="lb" font-size="12.0"><textPath href="#arc2" textLength="81.1" lengthAdjust="spacingAndGlyphs">КАРЛА МАРКСА</textPath></text></g>
<g><path d="M1036.5 597.9 L1011.6 604.3 L1019.8 584.4 Z" fill="#fff" stroke="#fff" stroke-width="2" stroke-linejoin="round"/><circle cx="1061.3" cy="550.2" r="55.3" fill="#fff"/><path d="M1036.5 597.9 L1011.6 604.3 L1019.8 584.4 Z" fill="#2a4a7f"/><circle cx="1061.3" cy="550.2" r="54.3" fill="#2a4a7f"/><circle cx="1061.3" cy="550.2" r="46.3" fill="#eef2f8"/><g transform="translate(1061.3 550.2)"><g clip-path="url(#ph)"><rect x="-47.0" y="-47.0" width="94.0" height="57.0" fill="#e9eef2" /><ellipse cx="-10.0" cy="-24.0" rx="34.0" ry="20.0" fill="#4f7f3f" /><ellipse cx="-30.0" cy="-12.0" rx="14.0" ry="14.0" fill="#7fae58" /><ellipse cx="-8.0" cy="-12.0" rx="9.0" ry="10.0" fill="#86b45c" /><ellipse cx="38.0" cy="-14.0" rx="8.0" ry="9.0" fill="#7fae58" /><ellipse cx="20.0" cy="-26.0" rx="14.0" ry="16.0" fill="#466f38" /><rect x="26.0" y="-38.0" width="3.0" height="30.0" fill="#b9c2c6" /><rect x="-47.0" y="-6.0" width="94.0" height="6.0" fill="#c9d0d4" /><rect x="-47.0" y="0.0" width="94.0" height="10.0" fill="#e3e2dc" /><path d="M-47 -2 Q-10 -6 22 -1 L22 9 L-47 9Z" fill="#7fa63c" /><path d="M-47 4 L22 4 L22 9 L-47 9Z" fill="#5f8a30" /></g></g><clipPath id="tc20"><rect x="1035.7" y="560.0" width="52.2" height="15.4"/></clipPath><g clip-path="url(#tc20)"><text class="lb" x="1038.7" y="573.8" font-size="13.8" textLength="46.2" lengthAdjust="spacingAndGlyphs">ПЛОЩАДЬ</text></g><clipPath id="tc21"><rect x="1039.0" y="574.6" width="44.5" height="15.4"/></clipPath><g clip-path="url(#tc21)"><text class="lb" x="1042.0" y="588.4" font-size="13.8" textLength="38.5" lengthAdjust="spacingAndGlyphs">ПОБЕДЫ</text></g></g>
<g><path d="M771.5 738.0 L777.7 758.3 L754.8 751.5 Z" fill="#fff" stroke="#fff" stroke-width="2" stroke-linejoin="round"/><circle cx="730.0" cy="703.8" r="55.3" fill="#fff"/><path d="M771.5 738.0 L777.7 758.3 L754.8 751.5 Z" fill="#2a4a7f"/><circle cx="730.0" cy="703.8" r="54.3" fill="#2a4a7f"/><circle cx="730.0" cy="703.8" r="46.3" fill="#eef2f8"/><g transform="translate(730.0 703.8)"><g clip-path="url(#ph)"><rect x="-47.0" y="-47.0" width="94.0" height="57.0" fill="#7f8284" /><rect x="18.0" y="-47.0" width="30.0" height="57.0" fill="#d9d3c6" /><rect x="28.0" y="-22.0" width="19.0" height="26.0" fill="#8a5a30" /><rect x="16.0" y="-47.0" width="4.0" height="57.0" fill="#efe9dc" /><path d="M-40 -12 L-8 -16 L-8 4 L-40 8Z" fill="#2b2b2b" /><path d="M-37 -9 L-11 -13 L-11 1 L-37 5Z" fill="#e9dfc0" /><rect x="-6.0" y="-22.0" width="22.0" height="6.0" fill="#d8d6cf" /><rect x="-6.0" y="-12.0" width="22.0" height="8.0" fill="#b9a98f" /><rect x="-6.0" y="-2.0" width="22.0" height="6.0" fill="#9aa0a4" /><rect x="-1.0" y="-40.0" width="6.0" height="10.0" fill="#a9acae" /></g></g><clipPath id="tc22"><rect x="687.1" y="714.9" width="84.2" height="15.4"/></clipPath><g clip-path="url(#tc22)"><text class="lb" x="690.1" y="728.7" font-size="13.8" textLength="78.2" lengthAdjust="spacingAndGlyphs">КРАЕВЕДЧЕСКИЙ</text></g><clipPath id="tc23"><rect x="710.8" y="728.4" width="37.7" height="15.4"/></clipPath><g clip-path="url(#tc23)"><text class="lb" x="713.8" y="742.2" font-size="13.8" textLength="31.7" lengthAdjust="spacingAndGlyphs">МУЗЕЙ</text></g></g>
<g><path d="M842.1 751.5 L817.3 757.7 L825.4 738.0 Z" fill="#fff" stroke="#fff" stroke-width="2" stroke-linejoin="round"/><circle cx="866.9" cy="703.8" r="55.3" fill="#fff"/><path d="M842.1 751.5 L817.3 757.7 L825.4 738.0 Z" fill="#2a4a7f"/><circle cx="866.9" cy="703.8" r="54.3" fill="#2a4a7f"/><circle cx="866.9" cy="703.8" r="46.3" fill="#eef2f8"/><g transform="translate(866.9 703.8)"><g clip-path="url(#ph)"><rect x="-47.0" y="-47.0" width="94.0" height="57.0" fill="#b4ada1" /><rect x="-47.0" y="-47.0" width="94.0" height="10.0" fill="#c9c3b8" /><rect x="-47.0" y="-30.0" width="14.0" height="22.0" fill="#8f9a8a" /><rect x="2.0" y="-38.0" width="24.0" height="34.0" fill="#241f1e" /><rect x="28.0" y="-30.0" width="20.0" height="26.0" fill="#6aa0d8" /><rect x="-24.0" y="-36.0" width="10.0" height="12.0" fill="#f2f2f0" /><rect x="-22.0" y="-34.0" width="6.0" height="8.0" fill="#333" /><path d="M-47 -4 L47 -8 L47 10 L-47 10Z" fill="#c9c8c4" /><path d="M0 -4 L40 -6 L47 6 L6 8Z" fill="#a9a8a6" /><rect x="-47.0" y="5.0" width="40.0" height="5.0" fill="#5f8a3f" /><path d="M-12 8 Q-10 -20 -2 -40" fill="none" stroke="#5a5348" stroke-width="1.0" /><path d="M-10 -5 Q-18 -20 -20 -30" fill="none" stroke="#5a5348" stroke-width="0.8" /></g></g><clipPath id="tc24"><rect x="826.4" y="714.6" width="81.2" height="15.4"/></clipPath><g clip-path="url(#tc24)"><text class="lb" x="829.4" y="728.4" font-size="13.8" textLength="75.2" lengthAdjust="spacingAndGlyphs">ХУДОЖЕСТВЕННАЯ</text></g><clipPath id="tc25"><rect x="843.8" y="726.6" width="46.3" height="15.4"/></clipPath><g clip-path="url(#tc25)"><text class="lb" x="846.8" y="740.4" font-size="13.8" textLength="40.3" lengthAdjust="spacingAndGlyphs">ГАЛЕРЕЯ</text></g></g>
<g><path d="M166.8 825.6 L156.0 890.4 L149.7 839.3 Z" fill="#fff" stroke="#fff" stroke-width="2" stroke-linejoin="round"/><circle cx="125.3" cy="791.4" r="55.3" fill="#fff"/><path d="M166.8 825.6 L156.0 890.4 L149.7 839.3 Z" fill="#2a4a7f"/><circle cx="125.3" cy="791.4" r="54.3" fill="#2a4a7f"/><circle cx="125.3" cy="791.4" r="46.3" fill="#eef2f8"/><g transform="translate(125.3 791.4)"><g clip-path="url(#ph)"><rect x="-47.0" y="-47.0" width="94.0" height="57.0" fill="#a8aab6" /><rect x="-47.0" y="-47.0" width="94.0" height="14.0" fill="#b7b8c2" /><rect x="-47.0" y="-28.0" width="94.0" height="6.0" fill="#d9c26a" /><rect x="-40.0" y="-30.0" width="80.0" height="3.0" fill="#e9d9a0" /><rect x="-47.0" y="-22.0" width="94.0" height="8.0" fill="#e6e6e4" /><rect x="-47.0" y="-16.0" width="94.0" height="3.0" fill="#8d8d8d" /><rect x="-47.0" y="-13.0" width="94.0" height="8.0" fill="#c9c7c0" /><rect x="-44.0" y="-13.0" width="3.0" height="8.0" fill="#55534e" /><rect x="-37.0" y="-13.0" width="3.0" height="8.0" fill="#55534e" /><rect x="-30.0" y="-13.0" width="3.0" height="8.0" fill="#55534e" /><rect x="-23.0" y="-13.0" width="3.0" height="8.0" fill="#55534e" /><rect x="-16.0" y="-13.0" width="3.0" height="8.0" fill="#55534e" /><rect x="-9.0" y="-13.0" width="3.0" height="8.0" fill="#55534e" /><rect x="-2.0" y="-13.0" width="3.0" height="8.0" fill="#55534e" /><rect x="5.0" y="-13.0" width="3.0" height="8.0" fill="#55534e" /><rect x="12.0" y="-13.0" width="3.0" height="8.0" fill="#55534e" /><rect x="19.0" y="-13.0" width="3.0" height="8.0" fill="#55534e" /><rect x="26.0" y="-13.0" width="3.0" height="8.0" fill="#55534e" /><rect x="-47.0" y="-5.0" width="94.0" height="15.0" fill="#5f5c52" /><rect x="-47.0" y="-5.0" width="94.0" height="3.0" fill="#77746a" /><ellipse cx="34.0" cy="0.0" rx="12.0" ry="9.0" fill="#b7962f" /><ellipse cx="20.0" cy="6.0" rx="9.0" ry="6.0" fill="#6f7a35" /><ellipse cx="42.0" cy="-8.0" rx="8.0" ry="7.0" fill="#8a8a3a" /></g></g><clipPath id="tc26"><rect x="108.2" y="807.5" width="34.8" height="15.4"/></clipPath><g clip-path="url(#tc26)"><text class="lb" x="111.2" y="821.3" font-size="13.8" textLength="28.8" lengthAdjust="spacingAndGlyphs">ШЛЮЗ</text></g></g>
<g><path d="M455.1 823.2 L445.6 890.0 L438.0 836.9 Z" fill="#fff" stroke="#fff" stroke-width="2" stroke-linejoin="round"/><circle cx="413.6" cy="789.0" r="55.3" fill="#fff"/><path d="M455.1 823.2 L445.6 890.0 L438.0 836.9 Z" fill="#2a4a7f"/><circle cx="413.6" cy="789.0" r="54.3" fill="#2a4a7f"/><circle cx="413.6" cy="789.0" r="46.3" fill="#eef2f8"/><g transform="translate(413.6 789.0)"><g clip-path="url(#ph)"><rect x="-47.0" y="-47.0" width="94.0" height="57.0" fill="#e2ebf6" /><path d="M-29 -26 L-12.7 -35 L1.3 -27Z" fill="#ede3cf" /><path d="M-31 -25 L-12.7 -36.5 L3 -26 L1 -25 L-12.7 -34 L-29 -24Z" fill="#c9453a" /><path d="M-46 -9.3 L-28 -26 L1.3 -26 L4 -9.3Z" fill="#e0262e" /><rect x="-29.0" y="-19.5" width="7.3" height="6.5" fill="#cfe0f2" /><rect x="-18.5" y="-19.5" width="9.0" height="6.5" fill="#cfe0f2" /><rect x="-29.0" y="-17.0" width="7.3" height="1.2" fill="#4a78b8" /><rect x="-18.5" y="-17.0" width="9.0" height="1.2" fill="#4a78b8" /><rect x="-47.0" y="-9.3" width="60.0" height="13.0" fill="#efe6d6" /><rect x="-47.0" y="-9.3" width="60.0" height="1.5" fill="#b9584a" /><rect x="-45.0" y="-4.5" width="4.5" height="3.5" fill="#3b3b42" /><rect x="-36.0" y="-4.5" width="4.5" height="3.5" fill="#3b3b42" /><rect x="-30.0" y="-4.5" width="4.5" height="3.5" fill="#3b3b42" /><rect x="-24.0" y="-4.5" width="4.5" height="3.5" fill="#3b3b42" /><rect x="-13.0" y="-4.5" width="4.5" height="3.5" fill="#3b3b42" /><rect x="-7.0" y="-4.5" width="4.5" height="3.5" fill="#3b3b42" /><rect x="-47.0" y="-1.0" width="44.0" height="3.5" fill="#a9a9ae" /><rect x="-47.0" y="3.5" width="94.0" height="5.5" fill="#5f8f45" /><ellipse cx="-30.0" cy="4.0" rx="6.0" ry="3.0" fill="#7aa556" /><ellipse cx="-5.0" cy="4.5" rx="8.0" ry="3.0" fill="#3f6d34" /><ellipse cx="18.0" cy="-18.0" rx="27.0" ry="25.0" fill="#7d9a68" /><ellipse cx="8.0" cy="-26.0" rx="12.0" ry="12.0" fill="#9db48c" /><ellipse cx="28.0" cy="-28.0" rx="14.0" ry="12.0" fill="#b8c7ab" /><ellipse cx="22.0" cy="-8.0" rx="18.0" ry="12.0" fill="#5f8450" /><ellipse cx="38.0" cy="-6.0" rx="10.0" ry="14.0" fill="#4f7a45" /><ellipse cx="12.0" cy="-12.0" rx="8.0" ry="8.0" fill="#c6d1bb" /><ellipse cx="30.0" cy="-16.0" rx="7.0" ry="6.0" fill="#d3dbc9" /><rect x="8.0" y="-2.0" width="34.0" height="4.0" fill="#e9e2d2" /><rect x="14.0" y="-6.0" width="1.5" height="9.0" fill="#4a4238" /><rect x="30.0" y="-6.0" width="1.5" height="9.0" fill="#4a4238" /></g></g><clipPath id="tc27"><rect x="383.3" y="803.2" width="60.9" height="15.4"/></clipPath><g clip-path="url(#tc27)"><text class="lb" x="386.3" y="817.0" font-size="13.8" textLength="54.9" lengthAdjust="spacingAndGlyphs">ДРАМТЕАТР</text></g></g>
<g><path d="M727.7 849.3 L716.5 798.0 L748.3 855.6 Z" fill="#fff" stroke="#fff" stroke-width="2" stroke-linejoin="round"/><circle cx="722.5" cy="902.8" r="55.3" fill="#fff"/><path d="M727.7 849.3 L716.5 798.0 L748.3 855.6 Z" fill="#2a4a7f"/><circle cx="722.5" cy="902.8" r="54.3" fill="#2a4a7f"/><circle cx="722.5" cy="902.8" r="46.3" fill="#eef2f8"/><g transform="translate(722.5 902.8)"><g clip-path="url(#ph)"><rect x="-47.0" y="-47.0" width="94.0" height="57.0" fill="#6c9f4b" /><ellipse cx="-28.0" cy="-22.0" rx="18.0" ry="22.0" fill="#86b65e" /><ellipse cx="26.0" cy="-26.0" rx="20.0" ry="24.0" fill="#5c9042" /><ellipse cx="0.0" cy="-44.0" rx="30.0" ry="10.0" fill="#a3cc7a" /><ellipse cx="-40.0" cy="0.0" rx="12.0" ry="12.0" fill="#4c7c3a" /><ellipse cx="38.0" cy="2.0" rx="14.0" ry="12.0" fill="#80b058" /><ellipse cx="12.0" cy="-8.0" rx="10.0" ry="14.0" fill="#76a852" /><ellipse cx="0.0" cy="-33.0" rx="3.6" ry="4.2" fill="#2a2a29" /><path d="M-6 -28 Q0 -31 6 -28 L7.5 -14 L5 -12 L6 8 L-7 8 L-5 -12 L-7.5 -14Z" fill="#2b2b2a" /><path d="M-7 -22 L7 -20 L7 -17 L-7 -18Z" fill="#3d3d3b" /><rect x="-10.0" y="6.0" width="20.0" height="4.0" fill="#3a3a38" /></g></g><clipPath id="tc28"><rect x="693.3" y="913.2" width="57.1" height="15.4"/></clipPath><g clip-path="url(#tc28)"><text class="lb" x="696.3" y="927.0" font-size="13.8" textLength="51.1" lengthAdjust="spacingAndGlyphs">ПАМЯТНИК</text></g><clipPath id="tc29"><rect x="696.8" y="925.9" width="50.1" height="15.4"/></clipPath><g clip-path="url(#tc29)"><text class="lb" x="699.8" y="939.7" font-size="13.8" textLength="44.1" lengthAdjust="spacingAndGlyphs">ПУШКИНУ</text></g></g>
<g><path d="M1126.5 797.5 L1172.7 767.0 L1128.5 818.9 Z" fill="#fff" stroke="#fff" stroke-width="2" stroke-linejoin="round"/><circle cx="1075.0" cy="813.0" r="55.3" fill="#fff"/><path d="M1126.5 797.5 L1172.7 767.0 L1128.5 818.9 Z" fill="#2a4a7f"/><circle cx="1075.0" cy="813.0" r="54.3" fill="#2a4a7f"/><circle cx="1075.0" cy="813.0" r="46.3" fill="#eef2f8"/><g transform="translate(1075.0 813.0)"><g clip-path="url(#ph)"><rect x="-47.0" y="-47.0" width="94.0" height="57.0" fill="#7fa453" /><ellipse cx="-30.0" cy="-20.0" rx="18.0" ry="24.0" fill="#688f42" /><ellipse cx="24.0" cy="-22.0" rx="22.0" ry="24.0" fill="#9bbd62" /><ellipse cx="0.0" cy="-42.0" rx="28.0" ry="10.0" fill="#c3d888" /><ellipse cx="38.0" cy="2.0" rx="14.0" ry="12.0" fill="#587f3a" /><ellipse cx="-40.0" cy="2.0" rx="10.0" ry="12.0" fill="#587f3a" /><ellipse cx="6.0" cy="-4.0" rx="12.0" ry="12.0" fill="#86aa56" /><ellipse cx="-5.0" cy="-31.0" rx="3.2" ry="3.8" fill="#33322d" /><path d="M-10 -27 Q-5 -29 0 -27 L2 -10 L0 6 L-11 6 L-12 -10Z" fill="#35342f" /><ellipse cx="1.0" cy="-22.0" rx="2.6" ry="2.6" fill="#e8e4da" /><rect x="-15.0" y="5.0" width="20.0" height="5.0" fill="#6a695f" /><rect x="5.0" y="7.0" width="20.0" height="3.0" fill="#8a8f86" /></g></g><clipPath id="tc30"><rect x="1049.5" y="820.2" width="49.5" height="13.2"/></clipPath><g clip-path="url(#tc30)"><text class="lb" x="1052.5" y="831.8" font-size="11.6" textLength="43.5" lengthAdjust="spacingAndGlyphs">ПАМЯТНИК</text></g><path id="arc3" d="M1034.59 827.71 A43.0 43.0 0 0 0 1113.65 831.85" fill="none"/><text class="lb" font-size="12.3"><textPath href="#arc3" textLength="100.6" lengthAdjust="spacingAndGlyphs">П.И. ЧАЙКОВСКОМУ</textPath></text></g>
<g><path d="M1320.0 847.4 L1309.0 914.3 L1302.9 861.1 Z" fill="#fff" stroke="#fff" stroke-width="2" stroke-linejoin="round"/><circle cx="1278.5" cy="813.2" r="55.3" fill="#fff"/><path d="M1320.0 847.4 L1309.0 914.3 L1302.9 861.1 Z" fill="#2a4a7f"/><circle cx="1278.5" cy="813.2" r="54.3" fill="#2a4a7f"/><circle cx="1278.5" cy="813.2" r="46.3" fill="#eef2f8"/><g transform="translate(1278.5 813.2)"><g clip-path="url(#ph)"><rect x="-47.0" y="-47.0" width="94.0" height="57.0" fill="#6db0f0" /><rect x="-47.0" y="-47.0" width="94.0" height="14.0" fill="#5aa2ea" /><ellipse cx="-28.0" cy="-8.0" rx="20.0" ry="12.0" fill="#3f6a34" /><ellipse cx="30.0" cy="-10.0" rx="22.0" ry="16.0" fill="#35602e" /><ellipse cx="10.0" cy="-16.0" rx="10.0" ry="10.0" fill="#2f5a2a" /><ellipse cx="-44.0" cy="-6.0" rx="8.0" ry="10.0" fill="#2f5a2a" /><rect x="-47.0" y="0.0" width="94.0" height="10.0" fill="#6aa23e" /><rect x="-47.0" y="-2.0" width="94.0" height="3.0" fill="#4f8a35" /><rect x="-13.0" y="-32.0" width="9.0" height="38.0" fill="#9a4a2c" /><rect x="-13.0" y="-32.0" width="3.0" height="38.0" fill="#7a3a22" /><path d="M-16 -40 L-6 -44 L-4 -32 L-14 -30Z" fill="#2a2a2a" /><rect x="-8.0" y="-38.0" width="24.0" height="5.0" fill="#3a3a3a" /><ellipse cx="-12.0" cy="-42.0" rx="5.0" ry="4.0" fill="#e9e9ef" /><path d="M2 6 Q-2 0 4 -6 Q12 -14 6 -24 Q2 -30 0 -24 Q-2 -10 4 2 Q6 8 0 8" fill="none" stroke="#fbf6e6" stroke-width="2.2" stroke-linecap="round"/><circle cx="5" cy="-10" r="5.5" fill="none" stroke="#fbf6e6" stroke-width="1.8"/></g></g><clipPath id="tc31"><rect x="1259.8" y="822.2" width="34.8" height="15.4"/></clipPath><g clip-path="url(#tc31)"><text class="lb" x="1262.8" y="836.0" font-size="13.8" textLength="28.8" lengthAdjust="spacingAndGlyphs">СТЕЛА</text></g><path id="arc4" d="M1237.60 826.49 A43.0 43.0 0 0 0 1319.16 827.20" fill="none"/><text class="lb" font-size="11.4"><textPath href="#arc4" textLength="107.3" lengthAdjust="spacingAndGlyphs">«СКРИПИЧНЫЙ КЛЮЧ»</textPath></text></g>
<g><path d="M1409.2 904.7 L1402.0 958.5 L1392.1 891.0 Z" fill="#fff" stroke="#fff" stroke-width="2" stroke-linejoin="round"/><circle cx="1433.6" cy="856.8" r="55.3" fill="#fff"/><path d="M1409.2 904.7 L1402.0 958.5 L1392.1 891.0 Z" fill="#2a4a7f"/><circle cx="1433.6" cy="856.8" r="54.3" fill="#2a4a7f"/><circle cx="1433.6" cy="856.8" r="46.3" fill="#eef2f8"/><g transform="translate(1433.6 856.8)"><g clip-path="url(#ph)"><rect x="-47.0" y="-47.0" width="94.0" height="57.0" fill="#2d70d2" /><rect x="-47.0" y="-47.0" width="94.0" height="14.0" fill="#2464c4" /><rect x="-47.0" y="-14.0" width="94.0" height="12.0" fill="#4b8ade" /><path d="M-26 9 L-26 -8 L-24 -8 L-24 -26 L-22 -30 L-19 -41 L-16 -30 L-14 -26 L-14 -12 L-8 -12 L-8 -20 L-2 -24 L22 -24 L26 -18 L26 -12 L33 -6 L33 9Z" fill="#b74a30" /><path d="M-8 -12 L26 -12 L33 -6 L33 9 L-8 9Z" fill="#c25a3c" /><rect x="-4.0" y="-8.0" width="6.0" height="10.0" fill="#9c3d28" /><rect x="8.0" y="-8.0" width="6.0" height="10.0" fill="#9c3d28" /><rect x="20.0" y="-6.0" width="6.0" height="9.0" fill="#9c3d28" /><rect x="-22.0" y="-22.0" width="4.0" height="6.0" fill="#7a2e20" /><rect x="-22.0" y="-12.0" width="4.0" height="6.0" fill="#7a2e20" /><rect x="4.4" y="-30.0" width="7.3" height="8.3" fill="#b74a30" /><ellipse cx="8.0" cy="-31.0" rx="5.2" ry="6.0" fill="#8f8c4f" /><path d="M5.4 -35.2 L8.0 -42.5 L10.6 -35.2 Z" fill="#a9a35a" /><rect x="-6.4" y="-25.0" width="4.8" height="5.4" fill="#b74a30" /><ellipse cx="-4.0" cy="-26.0" rx="3.4" ry="3.9" fill="#8f8c4f" /><path d="M-5.7 -28.4 L-4.0 -33.2 L-2.3 -28.4 Z" fill="#a9a35a" /><rect x="17.6" y="-25.0" width="4.8" height="5.4" fill="#b74a30" /><ellipse cx="20.0" cy="-26.0" rx="3.4" ry="3.9" fill="#8f8c4f" /><path d="M18.3 -28.4 L20.0 -33.2 L21.7 -28.4 Z" fill="#a9a35a" /><rect x="-20.7" y="-33.0" width="3.4" height="3.8" fill="#b74a30" /><ellipse cx="-19.0" cy="-34.0" rx="2.4" ry="2.8" fill="#8f8c4f" /><path d="M-20.2 -35.4 L-19.0 -38.8 L-17.8 -35.4 Z" fill="#a9a35a" /><ellipse cx="-36.0" cy="4.0" rx="13.0" ry="10.0" fill="#3f7d30" /><ellipse cx="-12.0" cy="7.0" rx="15.0" ry="8.0" fill="#4a8a36" /><ellipse cx="12.0" cy="8.0" rx="13.0" ry="7.0" fill="#3f7d30" /><ellipse cx="36.0" cy="2.0" rx="12.0" ry="14.0" fill="#376f2c" /><ellipse cx="42.0" cy="-12.0" rx="7.0" ry="12.0" fill="#2f6028" /><ellipse cx="-44.0" cy="-4.0" rx="5.0" ry="8.0" fill="#356a2b" /></g></g><clipPath id="tc32"><rect x="1418.4" y="867.4" width="31.3" height="15.4"/></clipPath><g clip-path="url(#tc32)"><text class="lb" x="1421.4" y="881.2" font-size="13.8" textLength="25.3" lengthAdjust="spacingAndGlyphs">ХРАМ</text></g><path id="arc5" d="M1394.63 874.97 A43.0 43.0 0 0 0 1472.57 874.97" fill="none"/><text class="lb" font-size="11.5"><textPath href="#arc5" textLength="97.6" lengthAdjust="spacingAndGlyphs">ГЕОРГИЯ ПОБЕДОНОСЦА</textPath></text></g>
<g><path d="M796.2 469.7 L768.0 471.7 L779.5 456.2 Z" fill="#fff" stroke="#fff" stroke-width="2" stroke-linejoin="round"/><circle cx="821.0" cy="422.0" r="55.3" fill="#fff"/><path d="M796.2 469.7 L768.0 471.7 L779.5 456.2 Z" fill="#2a4a7f"/><circle cx="821.0" cy="422.0" r="54.3" fill="#2a4a7f"/><circle cx="821.0" cy="422.0" r="46.3" fill="#ffffff"/><g transform="translate(821.0 422.0)"><g clip-path="url(#phc)"><rect x="-47.0" y="-47.0" width="94.0" height="94.0" fill="#ffffff" /><path d="M0 -34 L38 20 L-38 20Z" fill="#f8c80a" /><path d="M0 -34 L12 -17 L-6 10 L-30 10Z" fill="#fbdc55" opacity="0.7"/><rect x="-26.0" y="9.0" width="52.0" height="2.0" fill="#111" /><rect x="25.0" y="6.0" width="1.6" height="5.0" fill="#111" /><text class="sf" font-weight="bold" fill="#111"><tspan x="-27" y="8" font-size="24" textLength="12" lengthAdjust="spacingAndGlyphs">Ц</tspan><tspan x="-14" y="7" font-size="18" textLength="38" lengthAdjust="spacingAndGlyphs">ЕНТР</tspan></text><text x="-25" y="17.5" class="sf" font-weight="bold" font-size="6" fill="#111" textLength="50" lengthAdjust="spacingAndGlyphs">РАЗВИТИЯ КУЛЬТУРЫ</text></g></g></g>
</g>
</svg>
</body></html>
